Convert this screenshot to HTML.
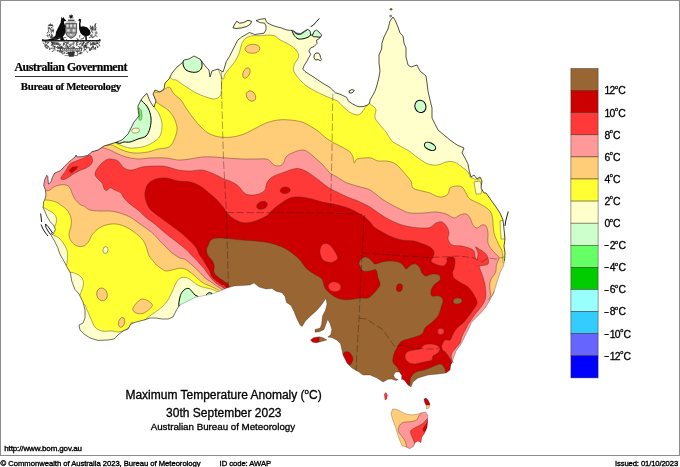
<!DOCTYPE html>
<html><head><meta charset="utf-8"><title>Maximum Temperature Anomaly</title>
<style>
html,body{margin:0;padding:0;background:#fff}
body{width:680px;height:467px;position:relative;overflow:hidden;font-family:"Liberation Sans",sans-serif;color:#000}
.frame{position:absolute;left:0;top:0;width:680px;height:456px;border:1px solid #8c8c8c;box-sizing:border-box}
.t{position:absolute;white-space:nowrap;line-height:1;margin:0}
.sm{font-size:7.8px;-webkit-text-stroke:0.35px #000}
.lab{position:absolute;left:604.4px;font-size:10.4px;letter-spacing:-0.6px;white-space:nowrap;line-height:1;-webkit-text-stroke:0.3px #000}
.lab sup,.ttl sup{font-size:5.6px;vertical-align:baseline;position:relative;top:-5.5px;letter-spacing:0;margin:0 0.2px}
.ttl sup{font-size:8px;top:-5.3px;margin:0}
.mn{display:inline-block;transform:scaleX(1.5);transform-origin:0 50%;width:5.3px;letter-spacing:0;position:relative;top:-0.8px;left:-0.3px}
.serif{font-family:"Liberation Serif",serif;font-weight:700}
</style></head><body>
<div class="frame"></div>
<svg width="680" height="467" viewBox="0 0 680 467" style="position:absolute;left:0;top:0">
<defs><clipPath id="land">
<path d="M46.8,175.3L47.8,176.5L48.4,184.0L50.7,182.4L52.5,177.0L54.8,173.0L60.7,170.6L64.3,166.5L67.8,163.0L71.3,160.0L75.0,157.0L76.0,155.0L77.0,157.0L83.0,156.5L87.8,155.3L92.0,151.8L98.0,150.0L104.0,146.0L114.0,143.0L122.0,140.0L128.0,134.0L131.0,128.0L134.0,122.0L139.0,116.0L138.0,109.0L138.0,106.0L141.0,100.0L144.0,96.0L147.0,93.5L149.0,99.0L151.0,103.0L154.0,107.0L156.0,101.0L153.0,94.0L155.0,90.0L160.0,92.0L164.0,89.0L165.0,83.0L169.0,79.0L172.0,73.0L177.0,67.0L182.0,63.0L184.0,60.0L189.0,59.0L194.0,56.0L200.0,59.0L203.0,63.0L206.0,67.0L209.0,70.0L210.0,77.0L212.0,71.0L218.0,69.0L223.0,72.0L224.3,68.2L226.2,61.6L229.6,56.3L232.2,51.0L234.9,45.7L237.5,40.4L241.5,37.1L246.1,34.5L249.4,32.5L254.7,34.5L260.0,33.8L264.0,33.2L266.0,29.9L266.0,25.9L264.6,23.2L260.0,22.6L256.0,20.6L260.0,19.3L265.3,18.6L266.3,21.9L268.0,23.2L272.0,25.2L275.9,26.5L281.2,27.9L286.5,29.9L289.5,30.3L292.7,30.4L296.6,33.0L300.4,33.8L304.3,31.2L307.5,29.3L310.0,31.0L311.0,35.5L313.0,34.0L314.0,31.5L316.5,30.0L319.0,32.0L321.6,35.0L321.6,35.7L319.0,38.9L316.5,40.2L317.0,43.4L314.0,46.6L310.7,47.9L308.8,51.0L310.7,54.3L308.8,57.5L306.8,61.4L304.3,65.2L302.8,69.0L305.0,71.5L312.0,76.0L318.0,80.0L324.0,84.0L330.1,87.6L335.3,92.7L341.5,94.8L346.6,97.4L348.7,101.5L352.8,104.0L357.9,106.6L363.1,106.6L367.2,105.1L369.3,103.5L370.3,99.4L373.4,94.3L375.4,90.1L377.0,85.0L379.0,77.0L380.0,71.0L379.0,63.0L379.0,55.0L381.6,49.0L382.0,43.0L384.0,37.0L388.0,29.0L390.0,21.0L393.0,17.0L395.0,20.0L398.0,27.0L400.0,33.0L403.0,36.0L404.0,43.0L406.0,48.0L406.0,57.0L408.0,65.0L411.0,67.0L417.0,65.0L420.0,71.0L426.0,76.0L427.0,83.0L428.0,91.0L430.0,100.0L432.0,108.0L432.0,118.0L435.0,124.0L438.0,130.0L444.0,135.0L450.0,140.0L457.0,145.0L464.0,148.0L462.0,153.0L465.0,158.0L468.0,164.0L469.0,170.0L471.0,177.0L474.0,175.0L477.0,179.0L480.0,177.0L482.0,181.0L481.0,188.0L484.0,193.0L486.0,193.0L491.0,200.0L496.0,207.0L500.0,213.0L503.0,220.0L504.0,229.0L505.0,239.0L504.0,246.0L505.0,253.0L504.5,261.0L503.5,266.0L500.3,272.3L498.3,278.0L496.5,283.9L493.6,293.5L489.7,300.3L485.9,307.0L481.0,312.8L476.2,317.6L471.4,322.4L468.5,329.2L465.6,335.0L462.8,340.7L460.0,345.5L456.0,351.0L453.5,358.0L452.0,363.0L451.0,364.0L450.0,370.0L446.0,373.0L438.0,374.0L428.0,375.0L418.0,378.0L413.0,382.0L411.0,387.0L408.0,385.0L404.0,380.0L401.5,379.3L401.8,375.5L399.3,372.0L395.7,372.0L393.5,375.0L395.0,378.3L398.3,379.8L396.0,380.6L391.5,379.0L388.0,379.3L383.0,382.0L377.0,378.0L370.0,375.0L363.0,375.0L359.0,372.0L352.0,368.0L347.0,363.0L343.0,355.0L341.0,346.0L340.5,343.7L336.7,340.0L332.2,337.7L327.7,337.0L330.7,334.7L331.8,329.5L330.0,323.5L327.7,319.3L326.2,323.5L324.0,329.5L319.5,331.7L315.0,332.2L315.0,329.5L320.2,328.0L321.7,323.5L322.5,316.0L325.5,310.0L327.0,304.0L325.8,298.0L324.7,300.2L321.0,305.5L316.5,310.7L310.5,316.0L305.2,321.2L302.2,326.5L300.0,325.0L297.0,319.0L294.0,311.5L291.0,305.5L286.5,302.5L285.0,296.5L282.0,292.7L276.0,291.2L272.0,288.5L266.0,289.0L259.0,287.0L254.0,283.0L250.0,285.0L242.0,285.6L234.0,286.0L227.0,288.0L220.0,291.0L212.0,294.0L204.0,295.6L196.0,297.0L188.0,301.0L180.0,305.0L177.0,309.0L173.0,317.0L168.0,319.0L162.0,319.0L156.0,318.0L150.0,318.0L144.0,320.0L136.0,322.0L131.0,324.0L128.0,329.0L123.0,331.0L118.0,335.0L114.0,339.0L108.0,340.0L98.0,340.4L90.0,338.0L84.0,334.0L80.0,330.0L79.0,325.0L83.0,323.0L85.0,318.0L85.0,310.0L83.0,302.0L79.0,294.0L74.8,289.2L71.6,280.7L70.5,273.2L66.3,265.7L64.1,261.4L59.8,253.9L57.7,247.5L54.5,241.0L51.3,235.7L53.4,233.5L55.5,229.3L53.4,225.0L50.2,221.8L47.0,216.4L44.8,211.0L43.1,207.8L43.8,201.4L44.8,199.5L46.0,194.8L45.4,190.0L43.7,185.3L44.8,179.4Z"/>
<path d="M392.5,409.0L391.0,413.5L392.5,419.5L395.5,427.0L397.7,434.5L400.0,441.0L402.0,445.7L406.0,447.0L409.7,448.7L413.5,446.5L415.0,442.7L418.0,441.0L421.0,442.7L421.7,437.5L424.7,433.0L427.0,427.7L427.7,421.0L427.7,415.0L425.5,412.0L421.7,412.7L418.0,414.0L412.0,415.0L406.0,414.0L400.0,411.0L395.5,409.0Z"/>
<path d="M232.9,27.9L234.9,23.9L236.8,21.2L239.5,23.2L243.5,22.6L248.0,20.3L251.4,21.2L250.7,23.9L246.8,26.5L241.5,27.9L236.2,28.5Z"/>
<path d="M314.3,54.5L316.0,53.2L318.5,53.0L320.0,55.0L320.5,57.5L321.6,59.5L320.5,60.8L318.0,59.5L315.5,60.0L314.0,58.0Z"/>
<path d="M310.5,340.0L313.5,337.7L319.5,336.7L323.2,337.7L327.0,340.0L321.7,341.5L316.5,342.7L312.7,342.2Z"/>
<path d="M384.3,394.0L386.0,392.5L387.4,395.0L386.8,399.0L385.0,400.0Z"/>
<path d="M424.0,399.0L426.0,398.0L428.0,400.0L430.0,404.0L429.0,408.0L426.5,409.0L426.0,405.0L424.5,402.0Z"/>
<path d="M349.0,91.0L352.0,89.5L354.4,90.5L352.0,93.0L349.5,93.0Z"/>
</clipPath></defs>
<g clip-path="url(#land)" opacity="0.999" stroke="#4a2a1a" stroke-opacity="0.7" stroke-width="0.6" stroke-linejoin="round">
<rect x="0" y="0" width="680" height="467" fill="#ffff33" stroke="none"/>
<path d="M160.0,60.0C158.5,66.3 168.3,74.7 171.0,78.0C173.7,81.3 174.2,79.0 176.0,80.0C177.8,81.0 180.0,82.7 182.0,84.0C184.0,85.3 185.7,86.5 188.0,88.0C190.3,89.5 193.0,91.5 196.0,93.0C199.0,94.5 203.0,96.0 206.0,97.0C209.0,98.0 211.7,99.2 214.0,99.0C216.3,98.8 218.8,97.8 220.0,96.0C221.2,94.2 221.2,94.0 221.5,88.0C221.8,82.0 221.6,68.0 221.5,60.0C221.4,52.0 227.9,43.3 221.0,40.0C214.1,36.7 190.2,36.7 180.0,40.0C169.8,43.3 161.5,53.7 160.0,60.0Z" fill="#ffffcc"/>
<path d="M222.0,78.0C224.2,82.0 223.7,75.6 225.0,74.0C226.3,72.4 227.9,70.3 229.6,68.2C231.2,66.1 233.2,64.2 234.9,61.6C236.6,59.0 238.4,55.3 239.5,52.4C240.6,49.5 240.5,46.7 241.5,44.4C242.5,42.1 243.7,39.9 245.4,38.5C247.2,37.1 249.6,36.2 252.0,35.8C254.4,35.3 257.3,35.9 260.0,35.8C262.7,35.7 265.6,35.1 268.0,35.1C270.4,35.1 272.6,35.0 274.6,35.8C276.6,36.6 277.9,38.6 279.9,39.8C281.9,41.0 284.3,41.9 286.5,43.1C288.7,44.3 291.2,45.6 293.1,47.1C295.0,48.6 296.8,50.6 297.7,52.4C298.6,54.1 298.9,55.6 298.4,57.6C297.8,59.6 295.2,62.2 294.4,64.3C293.6,66.4 293.2,68.2 293.5,70.0C293.8,71.8 294.6,73.0 296.0,75.0C297.4,77.0 300.0,80.0 302.0,82.0C304.0,84.0 305.7,85.4 308.0,87.0C310.3,88.6 313.2,90.0 316.0,91.5C318.8,93.0 322.5,94.6 325.0,95.8C327.5,97.0 329.1,97.5 331.2,98.4C333.3,99.3 335.5,99.7 337.4,101.0C339.3,102.3 340.8,104.5 342.5,106.1C344.2,107.7 345.9,109.4 347.6,110.7C349.3,112.0 351.1,113.1 352.8,113.8C354.5,114.5 356.4,115.1 357.9,114.9C359.3,114.7 360.5,113.8 361.5,112.8C362.5,111.8 363.3,110.3 364.1,109.2C364.9,108.1 365.5,106.9 366.2,106.1C366.9,105.3 367.7,105.1 368.2,104.6C368.7,104.0 369.0,102.8 369.4,102.8C369.8,102.8 370.1,103.9 370.4,104.3C370.7,104.7 370.6,104.5 371.3,105.0C372.0,105.5 373.6,106.2 374.4,107.1C375.2,108.0 375.9,108.9 376.0,110.2C376.1,111.5 375.1,113.4 375.0,114.9C374.9,116.4 374.8,117.6 375.4,119.0C376.0,120.4 377.3,121.6 378.5,123.1C379.7,124.6 381.4,126.7 382.6,128.2C383.9,129.7 384.4,129.9 386.0,132.0C387.6,134.1 389.7,138.7 392.0,141.0C394.3,143.3 397.2,144.3 400.0,146.0C402.8,147.7 406.0,149.0 409.0,151.0C412.0,153.0 414.8,155.8 418.0,158.0C421.2,160.2 424.7,162.8 428.0,164.0C431.3,165.2 435.0,165.3 438.0,165.0C441.0,164.7 443.3,162.5 446.0,162.0C448.7,161.5 451.3,161.2 454.0,162.0C456.7,162.8 459.7,165.3 462.0,167.0C464.3,168.7 466.3,170.2 468.0,172.0C469.7,173.8 469.2,178.0 472.0,178.0C474.8,178.0 477.0,185.0 485.0,172.0C493.0,159.0 514.2,128.7 520.0,100.0C525.8,71.3 573.3,16.7 520.0,0.0C466.7,-16.7 251.3,-8.3 200.0,0.0C148.7,8.3 208.3,37.0 212.0,50.0C215.7,63.0 219.8,74.0 222.0,78.0Z" fill="#ffffcc"/>
<path d="M147.0,92.0C151.2,92.0 148.7,97.3 150.0,100.0C151.3,102.7 153.5,105.7 155.0,108.0C156.5,110.3 157.8,111.3 159.0,114.0C160.2,116.7 161.8,120.3 162.0,124.0C162.2,127.7 161.7,132.8 160.0,136.0C158.3,139.2 155.0,141.2 152.0,143.0C149.0,144.8 145.7,146.2 142.0,147.0C138.3,147.8 133.7,148.3 130.0,148.0C126.3,147.7 122.7,146.0 120.0,145.0C117.3,144.0 116.5,143.7 114.0,142.0C111.5,140.3 103.2,142.0 105.0,135.0C106.8,128.0 118.0,107.2 125.0,100.0C132.0,92.8 142.8,92.0 147.0,92.0Z" fill="#ffffcc"/>
<path d="M42.0,207.0C43.2,206.7 46.1,209.0 48.0,210.0C49.9,211.0 52.0,211.8 53.4,213.2C54.8,214.6 56.2,216.6 56.6,218.6C57.0,220.6 56.0,223.4 55.5,225.0C55.0,226.6 54.3,227.8 53.4,228.0C52.5,228.2 51.2,227.7 50.0,226.0C48.8,224.3 47.5,220.3 46.0,218.0C44.5,215.7 41.7,213.8 41.0,212.0C40.3,210.2 40.8,207.3 42.0,207.0Z" fill="#ffffcc"/>
<path d="M51.0,234.0C51.8,233.8 52.7,234.9 54.0,235.5C55.3,236.1 57.1,236.3 58.8,237.8C60.5,239.3 62.7,242.0 64.1,244.3C65.5,246.6 66.8,249.2 67.3,251.7C67.8,254.2 67.5,257.0 67.3,259.2C67.1,261.4 67.2,264.4 66.3,265.0C65.4,265.6 64.0,266.3 62.0,263.0C60.0,259.7 56.2,249.3 54.0,245.0C51.8,240.7 49.5,238.8 49.0,237.0C48.5,235.2 50.2,234.2 51.0,234.0Z" fill="#ffffcc"/>
<path d="M70.0,272.5C71.5,271.9 75.0,273.2 77.0,274.2C79.0,275.2 81.2,276.7 82.3,278.5C83.4,280.3 83.6,282.9 83.4,285.0C83.2,287.1 82.0,289.6 81.3,291.4C80.6,293.2 80.5,295.9 79.0,296.0C77.5,296.1 73.8,295.0 72.0,292.0C70.2,289.0 68.3,281.2 68.0,278.0C67.7,274.8 68.5,273.1 70.0,272.5Z" fill="#ffffcc"/>
<path d="M83.0,306.0C85.8,301.8 85.7,307.8 87.0,310.0C88.3,312.2 89.7,316.2 91.0,319.0C92.3,321.8 93.2,325.0 95.0,327.0C96.8,329.0 99.2,330.3 102.0,331.0C104.8,331.7 109.2,330.8 112.0,331.0C114.8,331.2 116.8,332.2 119.0,332.0C121.2,331.8 123.3,330.8 125.0,330.0C126.7,329.2 127.8,328.3 129.0,327.0C130.2,325.7 130.8,321.9 132.0,322.4C133.2,322.9 141.3,325.4 136.0,330.0C130.7,334.6 111.0,349.2 100.0,350.0C89.0,350.8 72.8,342.3 70.0,335.0C67.2,327.7 80.2,310.2 83.0,306.0Z" fill="#ffffcc"/>
<path d="M143.0,323.0C142.3,320.8 144.2,320.7 146.0,319.0C147.8,317.3 151.3,315.0 154.0,313.0C156.7,311.0 159.7,309.2 162.0,307.0C164.3,304.8 166.3,302.5 168.0,300.0C169.7,297.5 170.7,294.8 172.0,292.0C173.3,289.2 174.7,285.3 176.0,283.0C177.3,280.7 178.6,279.3 180.0,278.4C181.4,277.4 182.9,277.3 184.3,277.3C185.7,277.3 187.2,277.7 188.6,278.4C190.0,279.1 191.3,280.4 192.9,281.6C194.5,282.8 196.2,284.4 198.2,285.4C200.1,286.4 202.5,286.9 204.6,287.5C206.7,288.1 209.0,288.4 211.0,289.0C213.0,289.6 215.1,290.6 216.4,291.3C217.7,292.1 219.2,291.2 219.0,293.5C218.8,295.8 226.5,298.6 215.0,305.0C203.5,311.4 162.0,329.0 150.0,332.0C138.0,335.0 143.7,325.2 143.0,323.0Z" fill="#ffffcc"/>
<ellipse cx="105.5" cy="250" rx="2.5" ry="3.5" transform="rotate(10 105.5 250)" fill="#ffffcc"/>
<path d="M474.0,182.0L480.0,181.0L482.0,188.0L481.0,194.0L476.0,194.0Z" fill="#ffffcc"/>
<path d="M500.0,221.0L504.0,220.0L505.0,239.0L501.0,239.0Z" fill="#ffffcc"/>
<path d="M150.0,85.0C150.3,83.7 153.0,91.0 155.0,92.0C157.0,93.0 159.7,91.8 162.0,91.0C164.3,90.2 167.0,86.5 169.0,87.0C171.0,87.5 172.0,91.8 174.0,94.0C176.0,96.2 179.0,97.7 181.0,100.0C183.0,102.3 183.8,104.8 186.0,108.0C188.2,111.2 191.3,115.7 194.0,119.0C196.7,122.3 199.3,125.5 202.0,128.0C204.7,130.5 207.0,132.5 210.0,134.0C213.0,135.5 216.3,136.5 220.0,137.0C223.7,137.5 228.0,137.5 232.0,137.0C236.0,136.5 240.0,135.5 244.0,134.0C248.0,132.5 252.3,129.8 256.0,128.0C259.7,126.2 262.3,124.3 266.0,123.0C269.7,121.7 274.0,120.5 278.0,120.0C282.0,119.5 286.0,119.7 290.0,120.0C294.0,120.3 298.7,121.0 302.0,122.0C305.3,123.0 307.3,124.5 310.0,126.0C312.7,127.5 315.3,129.0 318.0,131.0C320.7,133.0 323.3,136.0 326.0,138.0C328.7,140.0 331.3,141.5 334.0,143.0C336.7,144.5 339.3,145.5 342.0,147.0C344.7,148.5 348.2,150.3 350.0,152.0C351.8,153.7 352.3,155.2 353.0,157.0C353.7,158.8 353.7,162.7 354.4,163.0C355.1,163.3 355.4,159.8 357.0,159.0C358.6,158.2 361.7,158.2 364.0,158.0C366.3,157.8 368.7,157.5 371.0,158.0C373.3,158.5 375.5,160.5 378.0,161.0C380.5,161.5 383.3,160.7 386.0,161.0C388.7,161.3 391.7,161.8 394.0,163.0C396.3,164.2 398.0,166.0 400.0,168.0C402.0,170.0 404.2,172.8 406.0,175.0C407.8,177.2 409.8,178.8 411.0,181.0C412.2,183.2 411.2,186.3 413.0,188.0C414.8,189.7 419.2,190.2 422.0,191.0C424.8,191.8 427.7,192.2 430.0,193.0C432.3,193.8 434.0,195.3 436.0,196.0C438.0,196.7 440.0,197.3 442.0,197.0C444.0,196.7 446.7,195.5 448.0,194.0C449.3,192.5 448.7,189.3 450.0,188.0C451.3,186.7 454.0,186.2 456.0,186.0C458.0,185.8 460.3,185.8 462.0,187.0C463.7,188.2 464.7,191.0 466.0,193.0C467.3,195.0 467.7,197.2 470.0,199.0C472.3,200.8 477.0,202.3 480.0,204.0C483.0,205.7 486.0,207.2 488.0,209.0C490.0,210.8 491.2,212.7 492.0,215.0C492.8,217.3 492.7,220.0 493.0,223.0C493.3,226.0 493.2,229.7 494.0,233.0C494.8,236.3 496.7,240.0 498.0,243.0C499.3,246.0 501.2,248.3 502.0,251.0C502.8,253.7 502.7,257.0 503.0,259.0C503.3,261.0 502.0,262.0 504.0,263.0C506.0,264.0 510.7,258.8 515.0,265.0C519.3,271.2 529.2,267.5 530.0,300.0C530.8,332.5 566.7,433.3 520.0,460.0C473.3,486.7 298.0,485.0 250.0,460.0C202.0,435.0 236.8,337.8 232.0,310.0C227.2,282.2 223.1,296.1 221.0,293.0C218.9,289.9 220.4,292.0 219.6,291.3C218.8,290.6 217.8,289.8 216.4,289.0C215.0,288.2 213.0,287.3 211.0,286.4C209.0,285.5 206.5,284.9 204.6,283.8C202.7,282.7 201.1,281.4 199.3,280.0C197.5,278.6 195.8,276.7 194.0,275.2C192.2,273.7 190.2,272.0 188.6,270.9C187.0,269.8 185.7,269.2 184.3,268.8C182.9,268.4 181.7,268.1 180.0,268.2C178.3,268.3 176.3,269.0 174.0,269.5C171.7,270.0 168.0,271.1 166.0,271.0C164.0,270.9 163.6,270.0 162.0,269.0C160.4,268.0 157.9,266.3 156.4,265.0C154.9,263.7 154.3,262.3 153.2,261.0C152.1,259.7 150.9,258.6 150.0,257.3C149.1,256.0 148.7,254.9 148.0,253.0C147.3,251.1 147.0,248.3 146.0,246.0C145.0,243.7 144.0,241.3 142.0,239.0C140.0,236.7 136.7,234.0 134.0,232.0C131.3,230.0 129.0,228.3 126.0,227.0C123.0,225.7 119.3,224.3 116.0,224.0C112.7,223.7 109.0,224.2 106.0,225.0C103.0,225.8 100.3,227.3 98.0,229.0C95.7,230.7 93.5,233.0 92.0,235.0C90.5,237.0 90.3,239.2 89.0,241.0C87.7,242.8 86.0,245.2 84.0,246.0C82.0,246.8 79.2,246.8 77.0,246.0C74.8,245.2 72.3,243.0 71.0,241.0C69.7,239.0 69.0,236.5 69.0,234.0C69.0,231.5 70.7,228.7 71.0,226.0C71.3,223.3 71.7,220.7 71.0,218.0C70.3,215.3 68.7,212.2 67.0,210.0C65.3,207.8 62.4,206.3 60.7,205.0C59.0,203.7 58.6,203.1 57.0,202.4C55.4,201.7 53.0,201.0 51.0,200.6C49.0,200.2 48.3,200.1 44.8,200.0C41.3,199.9 32.5,208.3 30.0,200.0C27.5,191.7 20.0,160.0 30.0,150.0C40.0,140.0 77.3,140.8 90.0,140.0C102.7,139.2 102.3,144.2 106.0,145.0C109.7,145.8 109.3,144.2 112.0,145.0C114.7,145.8 118.3,148.7 122.0,150.0C125.7,151.3 129.7,152.7 134.0,153.0C138.3,153.3 144.0,152.7 148.0,152.0C152.0,151.3 154.5,149.8 158.0,149.0C161.5,148.2 166.3,148.5 169.0,147.0C171.7,145.5 172.7,142.8 174.0,140.0C175.3,137.2 176.7,132.8 177.0,130.0C177.3,127.2 176.7,125.3 176.0,123.0C175.3,120.7 174.3,118.2 173.0,116.0C171.7,113.8 169.8,111.7 168.0,110.0C166.2,108.3 164.0,107.3 162.0,106.0C160.0,104.7 157.5,103.0 156.0,102.0C154.5,101.0 154.0,102.8 153.0,100.0C152.0,97.2 149.7,86.3 150.0,85.0Z" fill="#ffcc77"/>
<path d="M92.0,140.0C102.8,139.5 99.0,145.7 101.0,147.0C103.0,148.3 102.5,147.5 104.0,148.0C105.5,148.5 108.0,149.2 110.0,150.0C112.0,150.8 113.3,151.8 116.0,153.0C118.7,154.2 122.3,156.0 126.0,157.0C129.7,158.0 134.0,158.8 138.0,159.0C142.0,159.2 145.3,158.2 150.0,158.0C154.7,157.8 161.3,157.7 166.0,158.0C170.7,158.3 174.0,159.8 178.0,160.0C182.0,160.2 186.0,159.5 190.0,159.0C194.0,158.5 198.0,157.3 202.0,157.0C206.0,156.7 210.0,156.8 214.0,157.0C218.0,157.2 221.3,157.7 226.0,158.0C230.7,158.3 237.0,158.8 242.0,159.0C247.0,159.2 252.0,159.0 256.0,159.0C260.0,159.0 263.7,158.7 266.0,159.0C268.3,159.3 268.7,160.0 270.0,161.0C271.3,162.0 272.3,164.2 274.0,165.0C275.7,165.8 278.3,166.3 280.0,165.8C281.7,165.3 283.0,163.5 284.0,162.0C285.0,160.5 284.7,158.5 286.0,157.0C287.3,155.5 289.3,154.2 292.0,153.0C294.7,151.8 299.3,150.2 302.0,150.0C304.7,149.8 306.0,150.8 308.0,152.0C310.0,153.2 311.7,155.0 314.0,157.0C316.3,159.0 319.3,161.3 322.0,164.0C324.7,166.7 327.5,170.8 330.0,173.0C332.5,175.2 334.2,175.3 337.0,177.0C339.8,178.7 343.2,181.4 347.0,183.0C350.8,184.6 355.9,185.6 359.7,186.8C363.5,188.0 366.3,188.0 370.0,190.0C373.7,192.0 378.3,196.5 382.0,199.0C385.7,201.5 388.7,203.2 392.0,205.0C395.3,206.8 399.0,208.7 402.0,210.0C405.0,211.3 406.3,212.5 410.0,213.0C413.7,213.5 419.7,213.2 424.0,213.0C428.3,212.8 432.3,211.8 436.0,212.0C439.7,212.2 443.0,213.0 446.0,214.0C449.0,215.0 451.7,217.8 454.0,218.0C456.3,218.2 458.0,215.7 460.0,215.0C462.0,214.3 464.3,213.5 466.0,214.0C467.7,214.5 468.8,216.2 470.0,218.0C471.2,219.8 471.8,223.3 473.0,225.0C474.2,226.7 475.5,228.0 477.0,228.0C478.5,228.0 480.5,225.3 482.0,225.0C483.5,224.7 485.0,224.7 486.0,226.0C487.0,227.3 487.7,230.2 488.0,233.0C488.3,235.8 487.3,240.2 488.0,243.0C488.7,245.8 490.5,248.0 492.0,250.0C493.5,252.0 495.8,253.7 497.0,255.0C498.2,256.3 499.1,256.4 499.0,258.0C498.9,259.6 497.1,262.2 496.5,264.6C495.9,267.0 496.5,269.7 495.5,272.3C494.5,274.9 491.7,277.4 490.7,280.0C489.7,282.6 489.7,285.2 489.7,287.8C489.7,290.4 490.7,293.4 490.7,295.5C490.7,297.6 487.9,299.4 489.5,300.5C491.1,301.6 496.6,275.4 500.0,302.0C503.4,328.6 554.2,433.7 510.0,460.0C465.8,486.3 281.3,485.0 235.0,460.0C188.7,435.0 234.0,338.2 232.0,310.0C230.0,281.8 224.8,294.5 223.0,291.0C221.2,287.5 222.4,289.9 221.3,289.0C220.2,288.1 218.1,287.1 216.4,285.9C214.7,284.7 212.8,283.2 211.0,282.0C209.2,280.8 207.5,279.9 205.7,278.4C203.9,276.9 202.2,274.8 200.4,273.0C198.6,271.2 196.8,269.4 195.0,267.7C193.2,266.0 191.4,264.3 189.6,262.9C187.8,261.4 185.9,259.8 184.3,259.0C182.7,258.2 181.2,258.5 180.0,258.0C178.8,257.5 178.2,257.1 176.8,256.2C175.4,255.3 173.2,254.0 171.4,252.5C169.6,251.0 167.8,248.8 166.0,247.0C164.2,245.2 162.5,243.7 160.7,241.8C158.9,240.0 157.2,237.7 155.4,235.9C153.6,234.1 152.6,233.0 150.0,231.0C147.4,229.0 143.3,226.3 140.0,224.0C136.7,221.7 133.3,218.8 130.0,217.0C126.7,215.2 123.3,214.0 120.0,213.0C116.7,212.0 113.3,211.3 110.0,211.0C106.7,210.7 103.3,211.2 100.0,211.0C96.7,210.8 92.7,210.8 90.0,210.0C87.3,209.2 85.5,206.8 84.0,206.0C82.5,205.2 81.9,205.7 80.8,205.0C79.7,204.3 78.4,203.1 77.2,201.8C76.0,200.5 74.7,198.8 73.7,197.0C72.7,195.2 72.1,192.9 71.3,191.2C70.5,189.4 70.2,187.6 69.0,186.5C67.8,185.4 66.1,184.9 64.3,184.7C62.5,184.5 60.2,184.9 58.4,185.3C56.6,185.7 55.1,186.2 53.7,187.0C52.3,187.8 51.3,189.4 50.0,190.0C48.7,190.6 48.3,190.9 46.0,190.6C43.7,190.3 37.7,194.8 36.0,188.0C34.3,181.2 26.7,158.0 36.0,150.0C45.3,142.0 81.2,140.5 92.0,140.0Z" fill="#ff9999"/>
<path d="M95.0,174.0C95.0,172.5 95.8,170.8 97.0,169.0C98.2,167.2 100.3,164.6 102.0,163.0C103.7,161.4 105.5,160.2 107.0,159.5C108.5,158.8 109.2,158.8 111.0,159.0C112.8,159.2 115.8,159.5 118.0,161.0C120.2,162.5 121.7,166.5 124.0,168.0C126.3,169.5 129.0,170.2 132.0,170.0C135.0,169.8 138.3,167.7 142.0,167.0C145.7,166.3 150.0,166.1 154.0,166.0C158.0,165.9 162.0,165.8 166.0,166.5C170.0,167.2 174.0,169.2 178.0,170.0C182.0,170.8 186.0,171.0 190.0,171.0C194.0,171.0 198.0,169.5 202.0,170.0C206.0,170.5 210.3,172.5 214.0,174.0C217.7,175.5 221.3,177.8 224.0,179.0C226.7,180.2 227.7,179.9 230.0,181.0C232.3,182.1 235.6,183.7 238.0,185.7C240.4,187.7 242.3,191.4 244.4,193.0C246.5,194.6 248.2,194.8 250.6,195.0C253.0,195.2 256.4,194.8 258.8,194.0C261.2,193.2 263.6,191.9 265.0,190.0C266.4,188.1 265.7,184.8 267.0,182.6C268.3,180.3 270.2,178.2 273.0,176.5C275.8,174.8 279.7,173.7 283.5,172.4C287.3,171.1 292.6,168.9 296.0,168.6C299.4,168.2 301.3,169.2 304.0,170.3C306.7,171.4 309.6,173.5 312.4,175.4C315.2,177.3 317.9,179.5 320.6,181.6C323.3,183.7 326.1,186.1 328.8,187.8C331.5,189.5 333.9,190.5 337.0,192.0C340.1,193.5 343.9,195.5 347.4,197.0C350.8,198.5 353.9,199.3 357.7,201.0C361.5,202.7 366.3,204.8 370.0,207.0C373.7,209.2 376.7,211.8 380.0,214.0C383.3,216.2 386.3,218.2 390.0,220.0C393.7,221.8 398.0,223.8 402.0,225.0C406.0,226.2 410.0,226.9 414.0,227.4C418.0,227.9 423.2,228.1 426.0,228.0C428.8,227.9 429.3,227.8 431.0,227.0C432.7,226.2 434.2,223.8 436.0,223.0C437.8,222.2 440.2,221.3 442.0,222.0C443.8,222.7 445.8,225.2 447.0,227.0C448.2,228.8 448.8,231.0 449.0,233.0C449.2,235.0 447.5,237.0 448.0,239.0C448.5,241.0 449.7,243.8 452.0,245.0C454.3,246.2 459.2,245.5 462.0,246.0C464.8,246.5 467.0,247.2 469.0,248.0C471.0,248.8 472.9,249.2 474.0,251.0C475.1,252.8 475.1,257.7 475.6,259.0C476.1,260.3 476.6,260.0 477.0,259.0C477.4,258.0 478.2,255.0 478.0,253.0C477.8,251.0 475.3,247.7 475.5,247.0C475.7,246.3 477.4,248.0 479.0,249.0C480.6,250.0 483.5,251.5 485.0,253.0C486.5,254.5 487.5,256.2 488.0,258.0C488.5,259.8 489.3,262.7 488.0,264.0C486.7,265.3 481.5,265.6 480.0,266.0C478.5,266.4 478.8,265.2 479.1,266.6C479.4,268.0 481.0,271.4 482.0,274.3C483.0,277.2 484.2,280.7 484.9,283.9C485.5,287.1 485.9,290.8 485.9,293.5C485.9,296.2 485.7,298.1 484.9,300.3C484.1,302.6 482.4,304.9 481.0,307.0C479.6,309.1 477.8,310.7 476.2,312.8C474.6,314.9 472.8,317.4 471.4,319.5C470.0,321.6 468.7,323.4 467.6,325.3C466.5,327.2 465.7,329.2 464.7,331.1C463.7,333.0 462.6,334.9 461.8,336.9C461.0,338.9 461.0,341.0 459.9,343.0C458.8,345.0 456.4,347.2 455.0,349.0C453.6,350.8 452.1,352.5 451.5,354.0C450.9,355.5 451.2,356.5 451.5,358.0C451.8,359.5 449.9,359.3 453.0,363.0C456.1,366.7 467.2,363.8 470.0,380.0C472.8,396.2 508.3,446.7 470.0,460.0C431.7,473.3 279.2,485.0 240.0,460.0C200.8,435.0 237.7,338.6 235.0,310.0C232.3,281.4 226.0,292.4 224.0,288.6C222.0,284.9 224.0,288.2 222.9,287.5C221.8,286.8 219.3,285.6 217.5,284.3C215.7,283.0 213.7,281.1 212.2,279.5C210.7,277.9 209.7,276.3 208.4,274.6C207.1,272.9 205.9,271.0 204.6,269.3C203.3,267.6 201.8,266.1 200.4,264.5C199.0,262.9 197.4,261.0 196.0,259.5C194.6,258.0 193.3,257.0 191.8,255.5C190.3,254.0 189.0,252.1 187.0,250.3C185.0,248.5 182.6,246.6 180.0,244.5C177.4,242.4 174.3,240.2 171.4,238.0C168.5,235.8 165.5,233.2 162.8,231.0C160.1,228.8 157.5,226.4 155.4,224.6C153.3,222.8 151.6,221.6 150.0,220.4C148.4,219.2 148.0,219.2 146.0,217.5C144.0,215.8 140.7,212.2 138.0,210.0C135.3,207.8 132.3,206.0 130.0,204.0C127.7,202.0 125.5,199.8 124.0,198.0C122.5,196.2 122.3,194.2 121.0,193.0C119.7,191.8 117.2,191.2 116.0,190.6C114.8,190.0 114.7,190.0 113.7,189.5C112.7,189.0 111.2,187.5 110.0,187.7C108.8,187.9 107.7,190.4 106.7,190.6C105.8,190.8 105.1,190.3 104.3,189.0C103.5,187.7 103.2,184.8 102.0,183.0C100.8,181.2 98.2,179.5 97.0,178.0C95.8,176.5 95.0,175.5 95.0,174.0Z" fill="#ff3838"/>
<path d="M60.7,178.3C60.9,176.9 63.9,173.6 65.4,171.2C67.0,168.8 68.0,165.8 70.0,164.0C72.0,162.2 74.8,161.7 77.2,160.6C79.6,159.5 82.2,158.6 84.3,157.7C86.4,156.8 88.6,155.0 90.0,155.3C91.4,155.6 92.3,158.0 92.5,159.4C92.7,160.8 92.4,162.6 91.4,164.0C90.4,165.4 88.4,166.7 86.6,167.7C84.8,168.7 82.8,169.1 80.8,170.0C78.8,170.9 76.9,171.8 74.9,173.0C72.9,174.2 70.8,175.9 69.0,177.0C67.2,178.1 65.7,179.2 64.3,179.4C62.9,179.6 60.5,179.7 60.7,178.3Z" fill="#ff3838"/>
<path d="M69.0,170.6L72.5,167.0L77.8,166.5L76.6,168.8L71.3,173.0Z" fill="#cc0000"/>
<path d="M145.0,193.0C145.3,190.2 146.2,186.3 148.0,184.0C149.8,181.7 153.0,180.0 156.0,179.0C159.0,178.0 162.3,177.7 166.0,178.0C169.7,178.3 174.0,180.3 178.0,181.0C182.0,181.7 186.3,181.2 190.0,182.0C193.7,182.8 196.8,184.2 200.0,186.0C203.2,187.8 206.3,190.8 209.0,193.0C211.7,195.2 213.7,196.7 216.0,199.0C218.3,201.3 221.0,204.5 223.0,207.0C225.0,209.5 226.2,212.0 228.0,214.0C229.8,216.0 231.7,217.6 234.0,219.0C236.3,220.4 239.3,221.9 242.0,222.5C244.7,223.1 247.2,223.0 250.0,222.5C252.8,222.0 256.0,220.8 258.8,219.7C261.6,218.5 264.6,217.3 267.0,215.6C269.4,213.9 270.6,211.5 273.0,209.4C275.4,207.3 278.7,204.9 281.5,203.0C284.3,201.1 286.9,199.0 290.0,198.0C293.1,197.0 296.3,196.8 300.0,197.0C303.7,197.2 308.3,198.2 312.0,199.0C315.7,199.8 318.5,201.2 322.0,202.0C325.5,202.8 329.2,203.2 333.0,204.0C336.8,204.8 341.2,205.8 345.0,207.0C348.8,208.2 352.4,209.9 355.6,211.5C358.8,213.1 361.6,214.8 364.0,216.6C366.4,218.3 368.3,220.3 370.0,222.0C371.7,223.7 372.0,225.3 374.0,227.0C376.0,228.7 379.0,230.3 382.0,232.0C385.0,233.7 388.7,235.7 392.0,237.0C395.3,238.3 398.3,239.3 402.0,240.0C405.7,240.7 411.0,240.5 414.0,241.0C417.0,241.5 417.3,242.0 420.0,243.0C422.7,244.0 427.7,245.5 430.0,247.0C432.3,248.5 433.5,250.3 434.0,252.0C434.5,253.7 433.5,255.5 433.0,257.0C432.5,258.5 430.7,259.8 431.0,261.0C431.3,262.2 433.0,263.2 435.0,264.0C437.0,264.8 441.0,266.3 443.0,266.0C445.0,265.7 446.3,263.3 447.0,262.0C447.7,260.7 446.2,258.8 447.0,258.0C447.8,257.2 450.7,256.7 452.0,257.0C453.3,257.3 454.7,258.0 455.0,260.0C455.3,262.0 454.4,267.0 454.0,269.0C453.6,271.0 452.5,270.5 452.5,272.0C452.5,273.5 452.6,276.2 454.0,278.0C455.4,279.8 458.7,281.5 461.0,283.0C463.3,284.5 465.8,285.0 468.0,287.0C470.2,289.0 472.5,292.3 474.0,295.0C475.5,297.7 477.2,300.5 477.0,303.0C476.8,305.5 474.5,307.7 473.0,310.0C471.5,312.3 469.7,314.8 468.0,317.0C466.3,319.2 464.8,321.2 463.0,323.0C461.2,324.8 458.7,326.2 457.0,328.0C455.3,329.8 454.2,332.0 453.0,334.0C451.8,336.0 451.3,339.0 450.0,340.0C448.7,341.0 446.3,339.2 445.0,340.0C443.7,340.8 442.5,343.5 442.0,345.0C441.5,346.5 441.0,347.2 442.0,349.0C443.0,350.8 446.3,353.7 448.0,356.0C449.7,358.3 450.0,359.0 452.0,363.0C454.0,367.0 458.7,363.8 460.0,380.0C461.3,396.2 495.8,446.7 460.0,460.0C424.2,473.3 282.0,485.0 245.0,460.0C208.0,435.0 241.2,338.8 238.0,310.0C234.8,281.2 228.7,291.7 226.0,287.5C223.3,283.3 223.4,285.9 221.8,284.8C220.2,283.7 218.1,282.4 216.4,281.0C214.7,279.6 212.7,277.9 211.6,276.3C210.5,274.7 210.8,273.1 210.0,271.4C209.2,269.7 207.9,267.9 206.8,266.0C205.7,264.1 204.4,261.8 203.2,260.0C202.0,258.2 200.6,256.7 199.6,255.0C198.6,253.3 198.2,251.3 197.3,249.6C196.4,247.9 195.5,246.8 193.9,245.0C192.3,243.2 189.8,240.8 187.5,238.6C185.2,236.4 182.7,234.2 180.0,232.0C177.3,229.8 174.3,227.8 171.4,225.7C168.5,223.6 165.2,221.1 162.8,219.3C160.4,217.5 159.1,216.7 157.0,215.0C154.9,213.3 151.8,211.3 150.0,209.0C148.2,206.7 146.8,203.7 146.0,201.0C145.2,198.3 144.7,195.8 145.0,193.0Z" fill="#cc0000"/>
<ellipse cx="285.2" cy="190.3" rx="5.0" ry="3.3" transform="rotate(-5 285.2 190.3)" fill="#cc0000"/>
<ellipse cx="262" cy="205.3" rx="5.5" ry="3.75" transform="rotate(-20 262 205.3)" fill="#cc0000"/>
<path d="M208.0,246.0C208.8,244.3 209.3,241.3 211.0,240.0C212.7,238.7 215.2,238.2 218.0,238.0C220.8,237.8 224.0,238.3 228.0,238.6C232.0,238.9 237.3,239.6 242.0,240.0C246.7,240.4 251.3,240.5 256.0,241.0C260.7,241.5 265.7,242.0 270.0,243.0C274.3,244.0 278.3,245.3 282.0,247.0C285.7,248.7 289.0,250.8 292.0,253.0C295.0,255.2 297.7,257.5 300.0,260.0C302.3,262.5 303.7,265.7 306.0,268.0C308.3,270.3 311.3,272.2 314.0,274.0C316.7,275.8 320.2,276.7 322.0,279.0C323.8,281.3 323.3,285.3 325.0,288.0C326.7,290.7 329.5,293.2 332.0,295.0C334.5,296.8 337.0,298.2 340.0,299.0C343.0,299.8 346.7,299.8 350.0,299.6C353.3,299.4 357.0,298.3 360.0,298.0C363.0,297.7 365.7,298.8 368.0,298.0C370.3,297.2 372.0,295.2 374.0,293.0C376.0,290.8 379.3,287.5 380.0,285.0C380.7,282.5 378.7,280.5 378.0,278.0C377.3,275.5 377.3,271.2 376.0,270.0C374.7,268.8 372.2,270.8 370.0,271.0C367.8,271.2 364.7,271.8 363.0,271.0C361.3,270.2 360.7,267.3 360.0,266.0C359.3,264.7 358.8,264.2 359.0,263.0C359.2,261.8 359.8,260.0 361.0,259.0C362.2,258.0 364.3,256.8 366.0,257.0C367.7,257.2 369.5,258.8 371.0,260.0C372.5,261.2 373.2,263.7 375.0,264.0C376.8,264.3 379.5,262.5 382.0,262.0C384.5,261.5 387.3,261.0 390.0,261.0C392.7,261.0 395.8,261.3 398.0,262.0C400.2,262.7 401.7,263.8 403.0,265.0C404.3,266.2 404.7,269.0 406.0,269.0C407.3,269.0 409.3,265.8 411.0,265.0C412.7,264.2 414.5,263.5 416.0,264.0C417.5,264.5 419.0,266.5 420.0,268.0C421.0,269.5 421.0,271.7 422.0,273.0C423.0,274.3 424.3,275.8 426.0,276.0C427.7,276.2 429.8,274.2 432.0,274.0C434.2,273.8 437.7,274.0 439.0,275.0C440.3,276.0 440.8,278.3 440.0,280.0C439.2,281.7 435.5,283.2 434.0,285.0C432.5,286.8 431.3,289.2 431.0,291.0C430.7,292.8 430.7,295.2 432.0,296.0C433.3,296.8 437.2,295.3 439.0,296.0C440.8,296.7 442.7,298.0 443.0,300.0C443.3,302.0 441.8,305.3 441.0,308.0C440.2,310.7 439.7,313.5 438.0,316.0C436.3,318.5 433.2,321.0 431.0,323.0C428.8,325.0 426.5,326.2 425.0,328.0C423.5,329.8 424.2,332.3 422.0,334.0C419.8,335.7 415.3,336.8 412.0,338.0C408.7,339.2 404.3,339.7 402.0,341.0C399.7,342.3 399.3,343.8 398.0,346.0C396.7,348.2 394.8,351.3 394.0,354.0C393.2,356.7 392.5,359.8 393.0,362.0C393.5,364.2 395.8,365.3 397.0,367.0C398.2,368.7 399.2,370.2 400.0,372.0C400.8,373.8 400.8,376.0 402.0,378.0C403.2,380.0 406.5,381.2 407.0,384.0C407.5,386.8 422.8,392.3 405.0,395.0C387.2,397.7 325.8,410.8 300.0,400.0C274.2,389.2 261.9,349.0 250.0,330.0C238.1,311.0 232.6,293.7 228.8,286.0C225.0,278.3 228.2,284.7 227.2,283.8C226.2,282.9 224.6,281.8 222.9,280.5C221.2,279.2 218.5,277.8 217.0,276.3C215.5,274.8 214.2,273.1 213.8,271.4C213.4,269.7 214.6,267.8 214.3,266.0C214.0,264.2 213.3,262.5 212.2,260.7C211.1,258.9 208.8,257.2 207.9,255.4C207.0,253.6 206.5,251.6 206.5,250.0C206.5,248.4 207.2,247.7 208.0,246.0Z" fill="#996633"/>
<path d="M410.0,383.0C409.8,380.5 410.0,378.8 411.0,377.0C412.0,375.2 413.8,373.2 416.0,372.0C418.2,370.8 421.3,370.8 424.0,370.0C426.7,369.2 429.3,368.0 432.0,367.0C434.7,366.0 438.0,364.0 440.0,364.0C442.0,364.0 443.0,365.5 444.0,367.0C445.0,368.5 445.3,370.5 446.0,373.0C446.7,375.5 453.7,378.8 448.0,382.0C442.3,385.2 418.3,391.8 412.0,392.0C405.7,392.2 410.2,385.5 410.0,383.0Z" fill="#996633"/>
<ellipse cx="457.6" cy="301" rx="4.5" ry="3.0" transform="rotate(-5 457.6 301)" fill="#996633"/>
<path d="M325.0,243.4C326.7,243.3 328.9,243.7 331.0,246.0C333.1,248.3 336.9,254.5 337.6,257.0C338.3,259.5 336.3,260.1 335.0,261.0C333.7,261.9 332.0,262.8 330.0,262.6C328.0,262.4 324.7,261.6 323.0,260.0C321.3,258.4 320.3,255.2 320.0,253.0C319.7,250.8 320.2,248.1 321.0,246.5C321.8,244.9 323.3,243.5 325.0,243.4Z" fill="#ff3838"/>
<ellipse cx="334.6" cy="286.8" rx="6.5" ry="5.0" transform="rotate(10 334.6 286.8)" fill="#ff3838"/>
<ellipse cx="399.4" cy="287.7" rx="3.0" ry="4.0" transform="rotate(15 399.4 287.7)" fill="#cc0000"/>
<ellipse cx="440.8" cy="331.4" rx="3.25" ry="3.25" transform="rotate(0 440.8 331.4)" fill="#ff3838"/>
<path d="M405.0,357.0C404.8,355.3 405.5,353.2 407.0,352.0C408.5,350.8 411.8,350.5 414.0,350.0C416.2,349.5 418.3,349.8 420.0,349.0C421.7,348.2 422.3,345.8 424.0,345.0C425.7,344.2 428.0,344.0 430.0,344.0C432.0,344.0 434.3,344.3 436.0,345.0C437.7,345.7 439.7,346.7 440.0,348.0C440.3,349.3 439.2,351.7 438.0,353.0C436.8,354.3 434.0,354.8 433.0,356.0C432.0,357.2 433.5,359.0 432.0,360.0C430.5,361.0 427.0,361.3 424.0,362.0C421.0,362.7 416.7,364.0 414.0,364.0C411.3,364.0 409.5,363.2 408.0,362.0C406.5,360.8 405.2,358.7 405.0,357.0Z" fill="#ff3838"/>
<path d="M343.0,356.0C342.7,354.0 343.8,352.5 345.0,352.0C346.2,351.5 348.7,351.8 350.0,353.0C351.3,354.2 353.0,357.0 353.0,359.0C353.0,361.0 351.0,364.2 350.0,365.0C349.0,365.8 348.2,365.5 347.0,364.0C345.8,362.5 343.3,358.0 343.0,356.0Z" fill="#cc0000"/>
<path d="M305.0,335.0L319.0,335.0L319.0,345.0L305.0,345.0Z" fill="#cc0000"/>
<path d="M382.0,390.0L390.0,390.0L390.0,402.0L382.0,402.0Z" fill="#ff3838"/>
<path d="M422.0,396.0L432.0,396.0L432.0,411.0L422.0,411.0Z" fill="#cc0000"/>
<path d="M312.0,52.0L323.0,52.0L323.0,62.0L312.0,62.0Z" fill="#ffffcc"/>
<path d="M385.0,405.0L432.0,405.0L432.0,452.0L385.0,452.0Z" fill="#ffcc77"/>
<path d="M419.5,415.0C418.2,416.4 418.0,418.9 416.5,420.0C415.0,421.1 412.8,421.3 410.5,421.7C408.2,422.1 404.9,421.8 403.0,422.5C401.1,423.2 399.9,424.7 399.2,426.2C398.4,427.7 398.0,429.8 398.5,431.5C399.0,433.2 401.1,435.1 402.2,436.7C403.3,438.3 404.4,439.4 405.2,441.2C405.9,442.9 406.2,445.4 406.7,447.2C407.2,449.0 403.3,451.2 408.0,452.0C412.7,452.8 430.5,458.8 435.0,452.0C439.5,445.2 436.8,418.2 435.0,411.5C433.2,404.8 426.6,410.9 424.0,411.5C421.4,412.1 420.8,413.6 419.5,415.0Z" fill="#ff9999"/>
<path d="M428.0,418.0C426.2,419.2 425.4,421.2 424.0,422.5C422.6,423.8 421.2,424.5 419.5,425.5C417.8,426.5 415.0,427.5 413.5,428.5C412.0,429.5 410.8,430.1 410.5,431.5C410.2,432.9 411.4,434.9 412.0,436.7C412.6,438.4 413.7,440.4 414.2,442.0C414.7,443.6 414.4,444.3 415.0,446.0C415.6,447.7 414.7,451.0 418.0,452.0C421.3,453.0 432.2,458.2 435.0,452.0C437.8,445.8 436.2,420.7 435.0,415.0C433.8,409.3 429.8,416.8 428.0,418.0Z" fill="#ff3838"/>
<path d="M428.5,419.5C428.0,419.3 427.1,422.5 426.2,424.0C425.3,425.5 423.6,427.2 423.2,428.5C422.8,429.8 423.4,431.4 424.0,431.5C424.6,431.6 425.7,430.3 426.5,429.2C427.3,428.1 428.7,426.6 429.0,425.0C429.3,423.4 429.0,419.7 428.5,419.5Z" fill="#cc0000"/>
<path d="M183.0,62.0C183.2,60.7 183.8,59.0 185.0,58.0C186.2,57.0 188.2,56.5 190.0,56.0C191.8,55.5 194.3,54.7 196.0,55.0C197.7,55.3 199.0,56.5 200.0,58.0C201.0,59.5 201.8,62.2 202.0,64.0C202.2,65.8 201.8,67.7 201.0,69.0C200.2,70.3 198.7,71.5 197.0,72.0C195.3,72.5 192.8,72.3 191.0,72.0C189.2,71.7 187.2,71.0 186.0,70.0C184.8,69.0 184.0,67.3 183.5,66.0C183.0,64.7 182.8,63.3 183.0,62.0Z" fill="#ccffcc" stroke="#000" stroke-opacity="1" stroke-width="1"/>
<path d="M136.0,96.0C138.8,95.3 140.0,99.0 142.0,101.0C144.0,103.0 146.5,105.2 148.0,108.0C149.5,110.8 150.7,114.7 151.0,118.0C151.3,121.3 150.8,125.0 150.0,128.0C149.2,131.0 148.0,134.2 146.0,136.0C144.0,137.8 140.7,138.0 138.0,139.0C135.3,140.0 132.3,141.5 130.0,142.0C127.7,142.5 126.0,141.8 124.0,142.0C122.0,142.2 120.3,144.2 118.0,143.0C115.7,141.8 108.8,141.3 110.0,135.0C111.2,128.7 120.7,111.5 125.0,105.0C129.3,98.5 133.2,96.7 136.0,96.0Z" fill="#ccffcc" stroke="#000" stroke-opacity="1" stroke-width="1"/>
<path d="M138.5,108.0C138.8,107.5 140.4,108.7 141.0,110.0C141.6,111.3 142.0,114.3 142.0,116.0C142.0,117.7 141.5,119.5 141.0,120.0C140.5,120.5 139.2,120.2 139.0,119.0C138.8,117.8 139.6,114.8 139.5,113.0C139.4,111.2 138.2,108.5 138.5,108.0Z" fill="#66ff66"/>
<ellipse cx="135.6" cy="130.6" rx="4.0" ry="2.5" transform="rotate(-10 135.6 130.6)" fill="#ffffcc"/>
<path d="M291.5,29.0C291.8,28.7 294.5,32.6 296.0,33.5C297.5,34.4 299.0,34.5 300.4,34.2C301.8,33.9 302.9,32.7 304.3,31.8C305.7,30.9 307.4,29.1 308.5,29.0C309.6,28.9 310.7,30.0 311.0,31.0C311.3,32.0 311.0,34.0 310.5,35.0C310.0,36.0 309.2,36.6 308.0,37.2C306.8,37.8 304.7,38.5 303.0,38.8C301.3,39.1 299.4,39.3 298.0,38.8C296.6,38.2 295.4,37.1 294.3,35.5C293.2,33.9 291.2,29.3 291.5,29.0Z" fill="#ccffcc" stroke="#000" stroke-opacity="1" stroke-width="1"/>
<path d="M316.5,29.0C317.5,28.9 318.5,31.0 319.5,32.0C320.5,33.0 322.4,34.1 322.5,35.0C322.6,35.9 321.0,36.9 320.0,37.2C319.0,37.5 317.7,36.9 316.5,36.8C315.3,36.6 313.3,37.0 312.8,36.3C312.3,35.6 312.9,33.7 313.5,32.5C314.1,31.3 315.5,29.1 316.5,29.0Z" fill="#ccffcc" stroke="#000" stroke-opacity="1" stroke-width="1"/>
<ellipse cx="420.4" cy="106.4" rx="5.5" ry="6.25" transform="rotate(-20 420.4 106.4)" fill="#ccffcc" stroke="#000" stroke-opacity="1" stroke-width="1"/>
<ellipse cx="430" cy="146.4" rx="6.0" ry="3.5" transform="rotate(25 430 146.4)" fill="#ccffcc" stroke="#000" stroke-opacity="1" stroke-width="1"/>
<path d="M179.0,306.0C178.3,303.8 179.5,299.3 180.0,297.0C180.5,294.7 181.1,293.6 182.0,292.3C182.9,291.0 184.2,289.6 185.4,289.0C186.6,288.4 187.9,288.2 189.0,288.6C190.1,289.0 190.8,290.2 191.8,291.3C192.8,292.4 194.0,294.0 195.0,295.0C196.0,296.0 198.5,295.7 198.0,297.5C197.5,299.3 194.3,303.9 192.0,306.0C189.7,308.1 186.2,310.0 184.0,310.0C181.8,310.0 179.7,308.2 179.0,306.0Z" fill="#ccffcc" stroke="#000" stroke-opacity="1" stroke-width="1"/>
<path d="M206.3,295.0C206.6,294.1 208.0,293.0 209.0,292.8C210.0,292.6 212.0,293.1 212.5,294.0C213.0,294.9 212.9,297.3 212.0,298.0C211.1,298.7 207.9,298.5 207.0,298.0C206.1,297.5 206.0,295.9 206.3,295.0Z" fill="#ccffcc" stroke="#000" stroke-opacity="1" stroke-width="1"/>
<ellipse cx="252.5" cy="48.8" rx="7.5" ry="4.5" transform="rotate(-3 252.5 48.8)" fill="#ffcc77"/>
<ellipse cx="246.4" cy="73" rx="3.25" ry="5.5" transform="rotate(25 246.4 73)" fill="#ffcc77"/>
<ellipse cx="251" cy="96" rx="4.25" ry="5.5" transform="rotate(-35 251 96)" fill="#ffcc77"/>
<ellipse cx="102" cy="294.4" rx="5.25" ry="6.5" transform="rotate(-15 102 294.4)" fill="#ffcc77"/>
<path d="M133.0,308.0C134.0,305.7 138.8,299.5 142.0,299.0C145.2,298.5 152.1,302.7 152.4,305.0C152.7,307.3 146.7,311.7 144.0,313.0C141.3,314.3 137.8,313.8 136.0,313.0C134.2,312.2 132.0,310.3 133.0,308.0Z" fill="#ffcc77"/>
<ellipse cx="121.6" cy="322.4" rx="3.0" ry="5.0" transform="rotate(15 121.6 322.4)" fill="#ffcc77"/>
</g>
<g fill="none" stroke="#2a1408" stroke-opacity="0.7" stroke-width="0.55" stroke-dasharray="7.5 2.5">
<path d="M221.3,71.5L221.8,100.0L223.5,160.0L226.4,212.0L228.4,286.0"/>
<path d="M226.4,212.5L300.0,212.8L330.0,213.0L362.0,214.5"/>
<path d="M332.8,93.5L332.0,150.0L330.6,208.0"/>
<path d="M364.4,215.0L362.0,253.0L360.0,300.0L357.0,353.0L356.0,371.0"/>
<path d="M362.0,253.0L400.0,255.6L430.0,257.5L460.0,256.0L474.0,258.0L482.0,262.0L488.0,258.0L496.0,259.0L504.0,257.0"/>
<path d="M359.0,318.0L366.0,319.0L374.0,324.0L382.0,329.0L388.0,337.0L395.0,347.0L402.0,345.0L414.0,348.0L426.0,349.0L436.0,349.0L441.0,347.0L454.0,363.0"/>
</g>
<g fill="none" stroke="#000" stroke-width="0.9" stroke-linejoin="round">
<path d="M92.0,151.8L98.0,150.0L104.0,146.0L114.0,143.0L122.0,140.0L128.0,134.0L131.0,128.0L134.0,122.0L139.0,116.0L138.0,109.0L138.0,106.0L141.0,100.0L144.0,96.0L147.0,93.5L149.0,99.0L151.0,103.0L154.0,107.0L156.0,101.0L153.0,94.0L155.0,90.0L160.0,92.0L164.0,89.0L165.0,83.0L169.0,79.0L172.0,73.0L177.0,67.0L182.0,63.0L184.0,60.0L189.0,59.0L194.0,56.0L200.0,59.0L203.0,63.0L206.0,67.0L209.0,70.0L210.0,77.0L212.0,71.0L218.0,69.0L223.0,72.0L224.3,68.2L226.2,61.6L229.6,56.3L232.2,51.0L234.9,45.7L237.5,40.4L241.5,37.1L246.1,34.5L249.4,32.5L254.7,34.5L260.0,33.8L264.0,33.2L266.0,29.9L266.0,25.9L264.6,23.2L260.0,22.6L256.0,20.6L260.0,19.3L265.3,18.6L266.3,21.9L268.0,23.2L272.0,25.2L275.9,26.5L281.2,27.9L286.5,29.9L289.5,30.3L292.7,30.4L296.6,33.0L300.4,33.8L304.3,31.2L307.5,29.3L310.0,31.0L311.0,35.5L313.0,34.0L314.0,31.5L316.5,30.0L319.0,32.0L321.6,35.0L321.6,35.7L319.0,38.9L316.5,40.2L317.0,43.4L314.0,46.6L310.7,47.9L308.8,51.0L310.7,54.3L308.8,57.5L306.8,61.4L304.3,65.2L302.8,69.0L305.0,71.5L312.0,76.0L318.0,80.0L324.0,84.0L330.1,87.6L335.3,92.7L341.5,94.8L346.6,97.4L348.7,101.5L352.8,104.0L357.9,106.6L363.1,106.6L367.2,105.1L369.3,103.5L370.3,99.4L373.4,94.3L375.4,90.1L377.0,85.0L379.0,77.0L380.0,71.0L379.0,63.0L379.0,55.0L381.6,49.0L382.0,43.0L384.0,37.0L388.0,29.0L390.0,21.0L393.0,17.0L395.0,20.0L398.0,27.0L400.0,33.0L403.0,36.0L404.0,43.0L406.0,48.0L406.0,57.0L408.0,65.0L411.0,67.0L417.0,65.0L420.0,71.0L426.0,76.0L427.0,83.0L428.0,91.0L430.0,100.0L432.0,108.0L432.0,118.0L435.0,124.0L438.0,130.0L444.0,135.0L450.0,140.0L457.0,145.0L464.0,148.0L462.0,153.0L465.0,158.0L468.0,164.0L469.0,170.0L471.0,177.0L474.0,175.0L477.0,179.0L480.0,177.0L482.0,181.0L481.0,188.0L484.0,193.0L486.0,193.0L491.0,200.0L496.0,207.0L500.0,213.0L503.0,220.0L504.0,229.0L505.0,239.0L504.0,246.0L505.0,253.0L504.5,261.0" stroke-width="0.75" stroke-opacity="0.9"/>
<path d="M504.5,261.0L503.5,266.0L500.3,272.3L498.3,278.0L496.5,283.9L493.6,293.5L489.7,300.3L485.9,307.0L481.0,312.8L476.2,317.6L471.4,322.4L468.5,329.2L465.6,335.0L462.8,340.7L460.0,345.5L456.0,351.0L453.5,358.0L452.0,363.0L451.0,364.0L450.0,370.0L446.0,373.0L438.0,374.0L428.0,375.0L418.0,378.0L413.0,382.0L411.0,387.0L408.0,385.0L404.0,380.0L401.5,379.3L401.8,375.5L399.3,372.0L395.7,372.0L393.5,375.0L395.0,378.3L398.3,379.8L396.0,380.6L391.5,379.0L388.0,379.3L383.0,382.0L377.0,378.0L370.0,375.0L363.0,375.0L359.0,372.0L352.0,368.0L347.0,363.0L343.0,355.0L341.0,346.0L340.5,343.7L336.7,340.0L332.2,337.7L327.7,337.0L330.7,334.7L331.8,329.5L330.0,323.5L327.7,319.3L326.2,323.5L324.0,329.5L319.5,331.7L315.0,332.2L315.0,329.5L320.2,328.0L321.7,323.5L322.5,316.0L325.5,310.0L327.0,304.0L325.8,298.0L324.7,300.2L321.0,305.5L316.5,310.7L310.5,316.0L305.2,321.2L302.2,326.5L300.0,325.0L297.0,319.0L294.0,311.5L291.0,305.5L286.5,302.5L285.0,296.5L282.0,292.7L276.0,291.2L272.0,288.5L266.0,289.0L259.0,287.0L254.0,283.0L250.0,285.0L242.0,285.6L234.0,286.0L227.0,288.0L220.0,291.0L212.0,294.0L204.0,295.6L196.0,297.0L188.0,301.0L180.0,305.0" stroke-width="0.55" stroke-opacity="0.45"/>
<path d="M180.0,305.0L177.0,309.0L173.0,317.0L168.0,319.0L162.0,319.0L156.0,318.0L150.0,318.0L144.0,320.0L136.0,322.0L131.0,324.0L128.0,329.0L123.0,331.0L118.0,335.0L114.0,339.0L108.0,340.0L98.0,340.4L90.0,338.0L84.0,334.0L80.0,330.0L79.0,325.0L83.0,323.0L85.0,318.0L85.0,310.0L83.0,302.0L79.0,294.0L74.8,289.2L71.6,280.7L70.5,273.2L66.3,265.7L64.1,261.4L59.8,253.9L57.7,247.5L54.5,241.0L51.3,235.7L53.4,233.5L55.5,229.3L53.4,225.0L50.2,221.8L47.0,216.4L44.8,211.0L43.1,207.8L43.8,201.4L44.8,199.5L46.0,194.8L45.4,190.0L43.7,185.3L44.8,179.4L46.8,175.3L47.8,176.5L48.4,184.0L50.7,182.4L52.5,177.0L54.8,173.0L60.7,170.6L64.3,166.5L67.8,163.0L71.3,160.0L75.0,157.0L76.0,155.0L77.0,157.0L83.0,156.5L87.8,155.3L92.0,151.8" stroke-width="0.7" stroke-opacity="0.8"/>
<path d="M392.5,409.0L391.0,413.5L392.5,419.5L395.5,427.0L397.7,434.5L400.0,441.0L402.0,445.7L406.0,447.0L409.7,448.7L413.5,446.5L415.0,442.7L418.0,441.0L421.0,442.7L421.7,437.5L424.7,433.0L427.0,427.7L427.7,421.0L427.7,415.0L425.5,412.0L421.7,412.7L418.0,414.0L412.0,415.0L406.0,414.0L400.0,411.0L395.5,409.0Z" stroke-width="0.5" stroke-opacity="0.45"/>
<path d="M232.9,27.9L234.9,23.9L236.8,21.2L239.5,23.2L243.5,22.6L248.0,20.3L251.4,21.2L250.7,23.9L246.8,26.5L241.5,27.9L236.2,28.5Z" stroke-width="0.75"/>
<path d="M314.3,54.5L316.0,53.2L318.5,53.0L320.0,55.0L320.5,57.5L321.6,59.5L320.5,60.8L318.0,59.5L315.5,60.0L314.0,58.0Z" stroke-width="0.75"/>
<path d="M310.5,340.0L313.5,337.7L319.5,336.7L323.2,337.7L327.0,340.0L321.7,341.5L316.5,342.7L312.7,342.2Z" stroke-width="0.5" stroke-opacity="0.45"/>
<path d="M384.3,394.0L386.0,392.5L387.4,395.0L386.8,399.0L385.0,400.0Z" stroke-width="0.5" stroke-opacity="0.45"/>
<path d="M424.0,399.0L426.0,398.0L428.0,400.0L430.0,404.0L429.0,408.0L426.5,409.0L426.0,405.0L424.5,402.0Z" stroke-width="0.5" stroke-opacity="0.45"/>
<path d="M349.0,91.0L352.0,89.5L354.4,90.5L352.0,93.0L349.5,93.0Z" stroke-width="0.75"/>
<path d="M508.3,211.5L507.0,216.0L505.5,222.0L505.0,226.0"/>
<path d="M310.7,26.7L313.5,25.0L316.5,21.5L319.4,18.4"/>
<path d="M40.6,213.5L41.2,218.0L41.6,222.0"/>
<path d="M41.0,224.5L43.0,229.0L45.5,233.0L48.0,236.0"/>
<path d="M45.5,224.0L48.0,226.5L50.5,230.0L52.5,233.0L50.5,234.5L48.0,231.0L46.0,227.5L45.5,224.0"/>
</g>
<g id="crest">
<polygon points="71.10,13.70 71.64,15.47 73.37,14.79 72.32,16.32 73.93,17.25 72.08,17.38 72.36,19.21 71.10,17.85 69.84,19.21 70.12,17.38 68.27,17.25 69.88,16.32 68.83,14.79 70.56,15.47" fill="#111"/>
<rect x="67.9" y="19.7" width="6.6" height="1.1" fill="#222"/>
<rect x="66.6" y="21.6" width="9.2" height="0.7" fill="#666"/>
<path d="M61.5,16.8 L62.6,18.4 L63.7,16.9 L64.3,18.8 L66.2,20.2 L65.6,21.2 L64,21.2 L64,22.8 L65,25.4 L66.8,26.8 L66.5,27.8 L64.8,27.4 L65.6,31 L64.6,34.5 L63,36.5 L64,39.4 L66.3,40.4 L60.5,40.8 L60.2,38 L58,39.5 L52,40.6 L46,40.6 L43,39.8 L47.6,39.5 L53,38 L55.5,35.5 L56,32 L58.2,27.5 L60.5,23 L61,20 Z" fill="#0a0a0a"/>
<path d="M78,20.3 L79.4,18.8 L80.7,19.1 L81,21 L80.4,24 L80.8,26.8 L83,26.3 L87,27.3 L89.9,30.3 L90.6,34 L88.6,35.7 L86.7,36.1 L87,40.2 L88.2,40.6 L84.3,40.6 L85.5,40 L85.1,36.1 L83,35.6 L80.4,33 L79.1,29 L79,24 L79.5,21 Z" fill="#0a0a0a"/>
<path d="M65.6,23.4 H76.6 V32.5 Q76.4,36.2 71.1,38.4 Q65.8,36.2 65.6,32.5 Z" fill="#a8a8a8" stroke="#222" stroke-width="0.7"/>
<path d="M65.6,28.2 H76.6 M69.3,23.4 V28.2 M73,23.4 V28.2 M71.1,28.2 V37.5 M65.6,32.8 H76.6" stroke="#333" stroke-width="0.5" fill="none"/>
<circle cx="67.4" cy="25.8" r="1.05" fill="#e8e8e8"/>
<circle cx="71.1" cy="25.8" r="1.05" fill="#e8e8e8"/>
<circle cx="74.8" cy="25.8" r="1.05" fill="#e8e8e8"/>
<circle cx="68.3" cy="30.5" r="1.05" fill="#e8e8e8"/>
<circle cx="73.9" cy="30.5" r="1.05" fill="#e8e8e8"/>
<circle cx="71.1" cy="34.8" r="1.05" fill="#e8e8e8"/>
<path d="M42,39.4 Q41.4,41.6 44,41.6 H98.6 Q101.2,41.6 100.6,39.4 Q99.6,38.6 98.4,40 H44.2 Q43,38.6 42,39.4 Z" fill="#1a1a1a"/>
<path d="M48.3,30.8 L49.3,32.9" stroke="#333" stroke-width="0.8"/>
<path d="M49.9,25.3 L52.6,25.4" stroke="#333" stroke-width="0.8"/>
<path d="M50.0,27.6 L47.9,27.7" stroke="#333" stroke-width="0.8"/>
<path d="M52.9,30.2 L52.2,31.7" stroke="#333" stroke-width="0.8"/>
<path d="M51.4,34.9 L51.2,37.5" stroke="#333" stroke-width="0.8"/>
<path d="M52.4,24.6 L50.7,26.2" stroke="#333" stroke-width="0.8"/>
<path d="M50.2,24.5 L48.2,25.4" stroke="#333" stroke-width="0.8"/>
<path d="M52.7,35.2 L50.9,37.5" stroke="#333" stroke-width="0.8"/>
<path d="M49.5,33.9 L50.0,36.7" stroke="#333" stroke-width="0.8"/>
<path d="M52.0,25.5 L53.6,26.2" stroke="#333" stroke-width="0.8"/>
<path d="M53.7,29.5 L53.0,31.3" stroke="#333" stroke-width="0.8"/>
<path d="M50.0,28.7 L51.0,30.8" stroke="#333" stroke-width="0.8"/>
<path d="M51.8,35.5 L50.2,37.9" stroke="#333" stroke-width="0.8"/>
<path d="M53.1,37.2 L52.3,38.6" stroke="#333" stroke-width="0.8"/>
<path d="M53.8,37.2 L51.6,37.9" stroke="#333" stroke-width="0.8"/>
<path d="M52.8,26.8 L50.8,27.9" stroke="#333" stroke-width="0.8"/>
<path d="M50.4,24.7 L47.8,26.0" stroke="#333" stroke-width="0.8"/>
<path d="M47.6,34.5 L48.1,36.1" stroke="#333" stroke-width="0.8"/>
<path d="M49.8,34.6 L48.5,35.2" stroke="#333" stroke-width="0.8"/>
<path d="M51.8,24.4 L50.6,25.9" stroke="#333" stroke-width="0.8"/>
<path d="M52.9,36.2 L52.8,39.2" stroke="#333" stroke-width="0.8"/>
<path d="M49.5,24.8 L49.0,26.2" stroke="#333" stroke-width="0.8"/>
<path d="M48.8,29.2 L48.3,30.8" stroke="#333" stroke-width="0.8"/>
<path d="M46.8,35.0 L48.4,37.4" stroke="#333" stroke-width="0.8"/>
<path d="M52.8,28.5 L53.1,30.7" stroke="#333" stroke-width="0.8"/>
<path d="M51.6,31.4 L51.1,33.7" stroke="#333" stroke-width="0.8"/>
<path d="M53.0,30.1 L53.5,32.6" stroke="#333" stroke-width="0.8"/>
<path d="M49.9,28.5 L47.7,28.6" stroke="#333" stroke-width="0.8"/>
<path d="M50.4,23.5 L51.1,25.8" stroke="#333" stroke-width="0.8"/>
<path d="M47.7,32.1 L47.1,33.5" stroke="#333" stroke-width="0.8"/>
<path d="M51.8,30.0 L50.7,31.6" stroke="#333" stroke-width="0.8"/>
<path d="M51.0,34.4 L52.5,34.5" stroke="#333" stroke-width="0.8"/>
<path d="M50.8,36.7 L52.3,38.3" stroke="#333" stroke-width="0.8"/>
<path d="M50.6,28.0 L51.4,29.7" stroke="#333" stroke-width="0.8"/>
<path d="M92.0,31.7 L93.2,33.4" stroke="#333" stroke-width="0.8"/>
<path d="M95.4,23.6 L94.9,26.1" stroke="#333" stroke-width="0.8"/>
<path d="M92.9,27.0 L91.5,28.0" stroke="#333" stroke-width="0.8"/>
<path d="M91.9,29.7 L90.9,31.0" stroke="#333" stroke-width="0.8"/>
<path d="M93.2,28.5 L91.4,29.5" stroke="#333" stroke-width="0.8"/>
<path d="M95.1,25.7 L96.3,27.8" stroke="#333" stroke-width="0.8"/>
<path d="M95.3,30.1 L96.5,31.1" stroke="#333" stroke-width="0.8"/>
<path d="M94.7,26.3 L92.5,27.9" stroke="#333" stroke-width="0.8"/>
<path d="M92.4,27.6 L90.4,29.0" stroke="#333" stroke-width="0.8"/>
<path d="M94.5,28.8 L96.2,29.5" stroke="#333" stroke-width="0.8"/>
<path d="M94.8,27.2 L95.8,29.1" stroke="#333" stroke-width="0.8"/>
<path d="M93.7,29.8 L92.1,30.2" stroke="#333" stroke-width="0.8"/>
<path d="M91.6,36.7 L88.8,37.8" stroke="#333" stroke-width="0.8"/>
<path d="M93.8,37.1 L92.1,37.5" stroke="#333" stroke-width="0.8"/>
<path d="M95.5,34.8 L94.4,36.8" stroke="#333" stroke-width="0.8"/>
<path d="M91.5,28.6 L92.6,29.6" stroke="#333" stroke-width="0.8"/>
<path d="M94.6,28.0 L93.4,28.8" stroke="#333" stroke-width="0.8"/>
<path d="M97.4,33.5 L94.6,34.2" stroke="#333" stroke-width="0.8"/>
<path d="M94.7,32.2 L97.3,32.3" stroke="#333" stroke-width="0.8"/>
<path d="M91.8,27.6 L90.8,29.5" stroke="#333" stroke-width="0.8"/>
<path d="M93.2,36.3 L92.5,38.1" stroke="#333" stroke-width="0.8"/>
<path d="M91.7,34.8 L91.9,37.5" stroke="#333" stroke-width="0.8"/>
<path d="M92.6,25.8 L92.3,28.5" stroke="#333" stroke-width="0.8"/>
<path d="M92.6,34.9 L90.0,35.5" stroke="#333" stroke-width="0.8"/>
<path d="M96.0,23.3 L94.9,25.9" stroke="#333" stroke-width="0.8"/>
<path d="M89.8,27.3 L91.3,29.0" stroke="#333" stroke-width="0.8"/>
<path d="M93.4,30.4 L92.4,31.3" stroke="#333" stroke-width="0.8"/>
<path d="M89.9,25.9 L91.2,26.5" stroke="#333" stroke-width="0.8"/>
<path d="M95.4,35.7 L97.5,36.3" stroke="#333" stroke-width="0.8"/>
<path d="M91.7,27.7 L92.8,29.8" stroke="#333" stroke-width="0.8"/>
<path d="M93.2,28.8 L94.7,29.9" stroke="#333" stroke-width="0.8"/>
<path d="M91.6,31.2 L90.4,32.8" stroke="#333" stroke-width="0.8"/>
<path d="M90.3,25.8 L91.2,28.0" stroke="#333" stroke-width="0.8"/>
<path d="M96.2,28.9 L94.2,30.3" stroke="#333" stroke-width="0.8"/>
<path d="M67.2,45.5 L67.3,48.0" stroke="#333" stroke-width="0.8"/>
<path d="M66.5,50.1 L66.7,51.9" stroke="#333" stroke-width="0.8"/>
<path d="M72.3,50.7 L74.4,51.2" stroke="#333" stroke-width="0.8"/>
<path d="M67.9,53.2 L65.9,53.6" stroke="#333" stroke-width="0.8"/>
<path d="M56.1,47.4 L58.6,48.4" stroke="#333" stroke-width="0.8"/>
<path d="M81.7,52.8 L79.8,54.3" stroke="#333" stroke-width="0.8"/>
<path d="M83.8,48.9 L86.0,49.6" stroke="#333" stroke-width="0.8"/>
<path d="M86.5,42.2 L88.0,42.6" stroke="#333" stroke-width="0.8"/>
<path d="M92.1,44.1 L94.9,44.3" stroke="#333" stroke-width="0.8"/>
<path d="M82.6,52.7 L80.3,53.0" stroke="#333" stroke-width="0.8"/>
<path d="M89.6,41.5 L87.9,43.0" stroke="#333" stroke-width="0.8"/>
<path d="M84.9,42.2 L82.8,44.2" stroke="#333" stroke-width="0.8"/>
<path d="M45.8,44.7 L45.3,47.4" stroke="#333" stroke-width="0.8"/>
<path d="M55.3,43.3 L57.0,45.0" stroke="#333" stroke-width="0.8"/>
<path d="M85.7,46.1 L86.5,47.9" stroke="#333" stroke-width="0.8"/>
<path d="M61.4,47.0 L63.6,47.6" stroke="#333" stroke-width="0.8"/>
<path d="M86.5,42.8 L85.0,45.0" stroke="#333" stroke-width="0.8"/>
<path d="M81.4,47.4 L81.5,49.8" stroke="#333" stroke-width="0.8"/>
<path d="M93.3,43.4 L95.7,44.2" stroke="#333" stroke-width="0.8"/>
<path d="M95.4,47.4 L95.8,49.9" stroke="#333" stroke-width="0.8"/>
<path d="M51.9,44.6 L53.8,46.0" stroke="#333" stroke-width="0.8"/>
<path d="M61.2,43.7 L59.6,46.1" stroke="#333" stroke-width="0.8"/>
<path d="M58.9,49.8 L59.7,52.4" stroke="#333" stroke-width="0.8"/>
<path d="M75.6,44.9 L76.8,45.8" stroke="#333" stroke-width="0.8"/>
<path d="M69.2,46.3 L70.9,47.4" stroke="#333" stroke-width="0.8"/>
<path d="M59.5,51.4 L62.2,52.7" stroke="#333" stroke-width="0.8"/>
<path d="M69.9,48.3 L70.2,51.1" stroke="#333" stroke-width="0.8"/>
<path d="M90.0,47.9 L90.1,50.4" stroke="#333" stroke-width="0.8"/>
<path d="M93.1,46.0 L91.1,48.2" stroke="#333" stroke-width="0.8"/>
<path d="M68.4,44.0 L70.3,45.7" stroke="#333" stroke-width="0.8"/>
<path d="M91.2,44.5 L92.7,45.5" stroke="#333" stroke-width="0.8"/>
<path d="M54.2,50.5 L51.7,51.7" stroke="#333" stroke-width="0.8"/>
<path d="M60.8,46.8 L59.8,48.0" stroke="#333" stroke-width="0.8"/>
<path d="M59.4,45.3 L58.8,47.7" stroke="#333" stroke-width="0.8"/>
<path d="M66.6,47.5 L68.4,48.9" stroke="#333" stroke-width="0.8"/>
<path d="M98.0,46.2 L97.8,47.7" stroke="#333" stroke-width="0.8"/>
<path d="M56.8,50.1 L59.4,51.1" stroke="#333" stroke-width="0.8"/>
<path d="M96.1,42.9 L94.2,43.3" stroke="#333" stroke-width="0.8"/>
<path d="M86.4,50.8 L87.9,52.8" stroke="#333" stroke-width="0.8"/>
<path d="M79.4,51.5 L81.1,53.4" stroke="#333" stroke-width="0.8"/>
<path d="M73.3,42.3 L73.4,44.3" stroke="#333" stroke-width="0.8"/>
<path d="M84.2,49.9 L83.8,51.6" stroke="#333" stroke-width="0.8"/>
<path d="M78.6,49.4 L81.0,50.9" stroke="#333" stroke-width="0.8"/>
<path d="M81.1,43.3 L79.5,43.6" stroke="#333" stroke-width="0.8"/>
<path d="M61.7,50.2 L61.0,52.4" stroke="#333" stroke-width="0.8"/>
<path d="M79.4,47.1 L80.3,48.5" stroke="#333" stroke-width="0.8"/>
<path d="M86.8,48.2 L85.5,49.7" stroke="#333" stroke-width="0.8"/>
<path d="M58.2,46.6 L56.9,47.1" stroke="#333" stroke-width="0.8"/>
<path d="M72.3,44.4 L70.8,45.7" stroke="#333" stroke-width="0.8"/>
<path d="M61.6,45.8 L61.3,48.4" stroke="#333" stroke-width="0.8"/>
<path d="M61.8,52.7 L63.5,53.3" stroke="#333" stroke-width="0.8"/>
<path d="M48.8,42.5 L46.8,44.1" stroke="#333" stroke-width="0.8"/>
<path d="M52.5,43.0 L53.1,45.5" stroke="#333" stroke-width="0.8"/>
<path d="M76.4,42.9 L76.9,44.5" stroke="#333" stroke-width="0.8"/>
<path d="M72.1,48.8 L73.6,49.8" stroke="#333" stroke-width="0.8"/>
<path d="M88.9,41.4 L86.6,43.0" stroke="#333" stroke-width="0.8"/>
<path d="M97.7,45.7 L97.3,48.0" stroke="#333" stroke-width="0.8"/>
<path d="M83.2,45.3 L81.2,46.2" stroke="#333" stroke-width="0.8"/>
<path d="M75.9,51.4 L78.5,51.4" stroke="#333" stroke-width="0.8"/>
<path d="M80.8,47.2 L80.6,49.4" stroke="#333" stroke-width="0.8"/>
<path d="M52.2,48.7 L54.4,48.9" stroke="#333" stroke-width="0.8"/>
<path d="M80.1,46.2 L79.5,49.1" stroke="#333" stroke-width="0.8"/>
<path d="M95.1,42.9 L93.2,44.3" stroke="#333" stroke-width="0.8"/>
<path d="M44.4,46.0 L45.5,47.1" stroke="#333" stroke-width="0.8"/>
<path d="M72.8,52.9 L74.3,55.3" stroke="#333" stroke-width="0.8"/>
<path d="M83.7,43.1 L81.6,44.1" stroke="#333" stroke-width="0.8"/>
<path d="M86.5,45.5 L84.1,47.2" stroke="#333" stroke-width="0.8"/>
<path d="M93.2,46.8 L91.6,48.3" stroke="#333" stroke-width="0.8"/>
<path d="M47.5,42.2 L49.2,42.6" stroke="#333" stroke-width="0.8"/>
<path d="M52.1,47.4 L50.7,49.3" stroke="#333" stroke-width="0.8"/>
<path d="M66.1,49.5 L67.3,51.2" stroke="#333" stroke-width="0.8"/>
<path d="M85.1,46.3 L87.5,47.9" stroke="#333" stroke-width="0.8"/>
<path d="M83.7,45.6 L84.5,47.7" stroke="#333" stroke-width="0.8"/>
<path d="M76.0,44.7 L77.8,44.8" stroke="#333" stroke-width="0.8"/>
<path d="M87.7,42.8 L87.9,44.5" stroke="#333" stroke-width="0.8"/>
<path d="M54.0,43.3 L54.5,44.9" stroke="#333" stroke-width="0.8"/>
<path d="M42.7,42.7 L44.6,43.8" stroke="#333" stroke-width="0.8"/>
<path d="M45.3,41.1 L45.7,43.1" stroke="#333" stroke-width="0.8"/>
<path d="M82.8,41.5 L83.5,43.4" stroke="#333" stroke-width="0.8"/>
<path d="M54.7,42.2 L54.9,43.9" stroke="#333" stroke-width="0.8"/>
<path d="M77.7,46.1 L79.1,46.7" stroke="#333" stroke-width="0.8"/>
<path d="M85.4,44.8 L83.7,46.1" stroke="#333" stroke-width="0.8"/>
<path d="M95.9,45.1 L97.2,46.4" stroke="#333" stroke-width="0.8"/>
<path d="M89.3,49.4 L90.0,50.8" stroke="#333" stroke-width="0.8"/>
<path d="M75.9,41.8 L77.4,41.9" stroke="#333" stroke-width="0.8"/>
<path d="M50.8,42.1 L53.2,42.5" stroke="#333" stroke-width="0.8"/>
<path d="M95.7,44.4 L93.6,44.5" stroke="#333" stroke-width="0.8"/>
<path d="M96.3,41.3 L97.7,43.2" stroke="#333" stroke-width="0.8"/>
<path d="M96.5,41.9 L98.2,44.1" stroke="#333" stroke-width="0.8"/>
<path d="M48.1,45.9 L49.3,48.0" stroke="#333" stroke-width="0.8"/>
<path d="M97.2,43.2 L95.4,45.0" stroke="#333" stroke-width="0.8"/>
<path d="M91.8,48.9 L89.9,49.3" stroke="#333" stroke-width="0.8"/>
<path d="M67.1,44.1 L65.4,45.5" stroke="#333" stroke-width="0.8"/>
<path d="M58.5,43.1 L57.0,45.0" stroke="#333" stroke-width="0.8"/>
<path d="M83.5,46.1 L83.6,47.7" stroke="#333" stroke-width="0.8"/>
<path d="M83.4,40.8 L83.7,43.4" stroke="#333" stroke-width="0.8"/>
<path d="M80.6,42.1 L82.6,44.0" stroke="#333" stroke-width="0.8"/>
<path d="M80.6,53.0 L78.6,53.8" stroke="#333" stroke-width="0.8"/>
<path d="M60.5,46.5 L62.5,46.9" stroke="#333" stroke-width="0.8"/>
<path d="M98.1,42.4 L97.7,44.0" stroke="#333" stroke-width="0.8"/>
<path d="M55.0,41.9 L57.2,43.0" stroke="#333" stroke-width="0.8"/>
<path d="M75.1,41.0 L77.4,42.9" stroke="#333" stroke-width="0.8"/>
<path d="M54.5,47.9 L55.2,50.5" stroke="#333" stroke-width="0.8"/>
<path d="M77.4,51.4 L77.3,53.1" stroke="#333" stroke-width="0.8"/>
<path d="M53.1,42.4 L51.7,43.3" stroke="#333" stroke-width="0.8"/>
<path d="M46.0,47.1 L48.1,48.8" stroke="#333" stroke-width="0.8"/>
<path d="M79.0,49.3 L77.0,51.2" stroke="#333" stroke-width="0.8"/>
<path d="M62.1,49.0 L62.4,50.5" stroke="#333" stroke-width="0.8"/>
<path d="M91.6,49.2 L90.1,50.1" stroke="#333" stroke-width="0.8"/>
<path d="M74.0,47.4 L73.0,48.5" stroke="#333" stroke-width="0.8"/>
<path d="M61.1,47.9 L63.4,48.5" stroke="#333" stroke-width="0.8"/>
<path d="M85.5,46.3 L84.5,48.4" stroke="#333" stroke-width="0.8"/>
<path d="M55.5,46.4 L53.6,46.4" stroke="#333" stroke-width="0.8"/>
<path d="M66.6,42.4 L67.8,43.4" stroke="#333" stroke-width="0.8"/>
<path d="M77.9,53.1 L77.7,55.1" stroke="#333" stroke-width="0.8"/>
<path d="M88.7,47.2 L85.8,47.2" stroke="#333" stroke-width="0.8"/>
<path d="M53.4,42.3 L52.2,43.8" stroke="#333" stroke-width="0.8"/>
<path d="M71.1,50.1 L73.7,50.4" stroke="#333" stroke-width="0.8"/>
<path d="M57.5,46.4 L58.8,48.7" stroke="#333" stroke-width="0.8"/>
<path d="M84.8,45.3 L86.6,45.9" stroke="#333" stroke-width="0.8"/>
<path d="M64.9,42.2 L67.2,43.4" stroke="#333" stroke-width="0.8"/>
<path d="M63.2,43.0 L64.4,44.8" stroke="#333" stroke-width="0.8"/>
<path d="M72.2,47.7 L73.4,50.2" stroke="#333" stroke-width="0.8"/>
<path d="M59.9,47.4 L57.4,48.4" stroke="#333" stroke-width="0.8"/>
<path d="M60.0,44.6 L58.8,45.4" stroke="#333" stroke-width="0.8"/>
<path d="M49.8,48.0 L49.6,49.6" stroke="#333" stroke-width="0.8"/>
<path d="M45.7,43.8 L44.1,45.2" stroke="#333" stroke-width="0.8"/>
<path d="M98.7,41.9 L99.9,42.7" stroke="#333" stroke-width="0.8"/>
<path d="M66.2,46.1 L68.4,46.4" stroke="#333" stroke-width="0.8"/>
<path d="M46.5,45.0 L48.4,46.9" stroke="#333" stroke-width="0.8"/>
<path d="M65.4,45.1 L67.5,45.4" stroke="#333" stroke-width="0.8"/>
<path d="M80.0,50.3 L77.4,51.1" stroke="#333" stroke-width="0.8"/>
<path d="M57.4,42.7 L55.5,44.5" stroke="#333" stroke-width="0.8"/>
<path d="M71.9,51.9 L71.6,53.7" stroke="#333" stroke-width="0.8"/>
<path d="M52.5,40.7 L51.3,43.3" stroke="#333" stroke-width="0.8"/>
<path d="M95.7,46.7 L94.3,49.2" stroke="#333" stroke-width="0.8"/>
<path d="M89.3,48.7 L89.9,50.8" stroke="#333" stroke-width="0.8"/>
<path d="M52.8,43.0 L51.2,45.5" stroke="#333" stroke-width="0.8"/>
<path d="M73.5,46.2 L74.5,48.1" stroke="#333" stroke-width="0.8"/>
<path d="M89.8,47.7 L88.2,47.9" stroke="#333" stroke-width="0.8"/>
<path d="M60.0,47.4 L60.8,50.0" stroke="#333" stroke-width="0.8"/>
<path d="M78.1,41.1 L77.6,43.3" stroke="#333" stroke-width="0.8"/>
<path d="M71.4,44.4 L69.6,46.6" stroke="#333" stroke-width="0.8"/>
<path d="M65.1,48.1 L62.3,49.1" stroke="#333" stroke-width="0.8"/>
<path d="M80.5,44.2 L78.8,44.6" stroke="#333" stroke-width="0.8"/>
<path d="M63.9,52.0 L64.9,53.5" stroke="#333" stroke-width="0.8"/>
<path d="M60.1,46.4 L61.1,47.6" stroke="#333" stroke-width="0.8"/>
<path d="M46.0,44.4 L47.3,45.3" stroke="#333" stroke-width="0.8"/>
<path d="M73.8,51.0 L71.7,52.2" stroke="#333" stroke-width="0.8"/>
<path d="M88.9,40.7 L90.8,43.0" stroke="#333" stroke-width="0.8"/>
<path d="M46.0,44.4 L46.1,46.2" stroke="#333" stroke-width="0.8"/>
<path d="M72.9,41.4 L75.0,43.4" stroke="#333" stroke-width="0.8"/>
<path d="M80.8,50.0 L82.1,50.7" stroke="#333" stroke-width="0.8"/>
<path d="M85.3,43.4 L87.6,44.9" stroke="#333" stroke-width="0.8"/>
<path d="M94.3,42.3 L92.1,42.6" stroke="#333" stroke-width="0.8"/>
<path d="M63.9,41.8 L64.9,44.6" stroke="#333" stroke-width="0.8"/>
<path d="M57.7,43.2 L59.1,43.9" stroke="#333" stroke-width="0.8"/>
<path d="M61.8,53.7 L63.4,54.1" stroke="#333" stroke-width="0.8"/>
<path d="M98.7,43.7 L100.0,46.4" stroke="#333" stroke-width="0.8"/>
<path d="M70.0,50.5 L70.8,51.7" stroke="#333" stroke-width="0.8"/>
<path d="M63.1,50.9 L61.3,52.4" stroke="#333" stroke-width="0.8"/>
<path d="M68.9,47.8 L69.4,50.0" stroke="#333" stroke-width="0.8"/>
<path d="M91.2,43.1 L90.3,45.8" stroke="#333" stroke-width="0.8"/>
<path d="M93.0,44.0 L90.3,44.3" stroke="#333" stroke-width="0.8"/>
<path d="M51.2,44.9 L52.4,45.8" stroke="#333" stroke-width="0.8"/>
<path d="M91.7,43.3 L94.4,43.4" stroke="#333" stroke-width="0.8"/>
<path d="M82.7,48.2 L81.5,49.3" stroke="#333" stroke-width="0.8"/>
<path d="M72.6,47.1 L74.7,48.1" stroke="#333" stroke-width="0.8"/>
<path d="M60.5,47.6 L61.3,49.4" stroke="#333" stroke-width="0.8"/>
<path d="M64.4,49.6 L61.5,49.8" stroke="#333" stroke-width="0.8"/>
<path d="M57.8,42.1 L57.8,44.7" stroke="#333" stroke-width="0.8"/>
<path d="M61.0,49.2 L62.9,51.5" stroke="#333" stroke-width="0.8"/>
<path d="M68.6,46.7 L68.4,49.5" stroke="#333" stroke-width="0.8"/>
<path d="M66.8,49.7 L68.8,50.2" stroke="#333" stroke-width="0.8"/>
<path d="M63.7,43.2 L63.2,46.0" stroke="#333" stroke-width="0.8"/>
<path d="M67.8,52.5 L66.6,54.0" stroke="#333" stroke-width="0.8"/>
<path d="M59.3,47.5 L59.9,49.4" stroke="#333" stroke-width="0.8"/>
<path d="M80.3,52.6 L79.9,54.1" stroke="#333" stroke-width="0.8"/>
<path d="M55.2,45.9 L54.6,47.5" stroke="#333" stroke-width="0.8"/>
<path d="M46.3,45.5 L47.2,46.6" stroke="#333" stroke-width="0.8"/>
<path d="M73.7,52.7 L73.4,55.2" stroke="#333" stroke-width="0.8"/>
<path d="M95.8,47.0 L95.0,48.3" stroke="#333" stroke-width="0.8"/>
<path d="M93.4,45.4 L93.6,48.2" stroke="#333" stroke-width="0.8"/>
<path d="M59.8,43.7 L57.8,44.9" stroke="#333" stroke-width="0.8"/>
<path d="M46.6,41.5 L47.3,42.8" stroke="#333" stroke-width="0.8"/>
<path d="M90.0,43.5 L91.4,45.0" stroke="#333" stroke-width="0.8"/>
<path d="M72.4,46.4 L71.5,48.6" stroke="#333" stroke-width="0.8"/>
<path d="M68.8,43.0 L66.3,43.2" stroke="#333" stroke-width="0.8"/>
<path d="M48.0,46.6 L45.8,48.7" stroke="#333" stroke-width="0.8"/>
<path d="M45.8,40.9 L45.9,43.0" stroke="#333" stroke-width="0.8"/>
<path d="M61.8,46.0 L61.0,48.7" stroke="#333" stroke-width="0.8"/>
<path d="M52.6,46.6 L55.0,47.3" stroke="#333" stroke-width="0.8"/>
<path d="M71.8,49.1 L73.5,49.6" stroke="#333" stroke-width="0.8"/>
<path d="M69.5,52.2 L69.3,54.0" stroke="#333" stroke-width="0.8"/>
<path d="M72.1,43.3 L73.8,45.6" stroke="#333" stroke-width="0.8"/>
<path d="M50.1,47.9 L49.4,49.7" stroke="#333" stroke-width="0.8"/>
<path d="M53.7,41.7 L54.1,43.5" stroke="#333" stroke-width="0.8"/>
<path d="M97.8,43.1 L95.9,43.7" stroke="#333" stroke-width="0.8"/>
<path d="M53.3,44.1 L55.5,44.4" stroke="#333" stroke-width="0.8"/>
<path d="M65.1,52.7 L63.8,53.4" stroke="#333" stroke-width="0.8"/>
<path d="M64.7,46.5 L66.2,47.4" stroke="#333" stroke-width="0.8"/>
<path d="M57.0,50.3 L57.8,51.7" stroke="#333" stroke-width="0.8"/>
<path d="M55.1,46.8 L54.7,48.5" stroke="#333" stroke-width="0.8"/>
<path d="M83.5,43.6 L82.3,45.7" stroke="#333" stroke-width="0.8"/>
<path d="M65.4,47.8 L64.7,50.1" stroke="#333" stroke-width="0.8"/>
<path d="M69.0,41.7 L66.8,43.4" stroke="#333" stroke-width="0.8"/>
<path d="M69.7,48.4 L71.6,50.5" stroke="#333" stroke-width="0.8"/>
<path d="M83.4,43.9 L80.9,45.5" stroke="#333" stroke-width="0.8"/>
<path d="M70.9,43.4 L69.7,44.9" stroke="#333" stroke-width="0.8"/>
<path d="M83.8,49.1 L85.9,49.9" stroke="#333" stroke-width="0.8"/>
<path d="M91.9,46.7 L91.6,49.5" stroke="#333" stroke-width="0.8"/>
<path d="M68.5,47.0 L67.8,49.6" stroke="#333" stroke-width="0.8"/>
<path d="M54.7,42.3 L53.0,43.8" stroke="#333" stroke-width="0.8"/>
<path d="M95.1,48.9 L92.4,49.0" stroke="#333" stroke-width="0.8"/>
<path d="M84.5,45.6 L87.0,45.7" stroke="#333" stroke-width="0.8"/>
<path d="M84.9,45.3 L85.1,47.6" stroke="#333" stroke-width="0.8"/>
<path d="M56.4,38.8 L56.1,40.8" stroke="#333" stroke-width="0.8"/>
<path d="M53.7,38.1 L55.1,40.3" stroke="#333" stroke-width="0.8"/>
<path d="M54.4,38.0 L56.1,39.2" stroke="#333" stroke-width="0.8"/>
<path d="M59.4,37.2 L61.6,37.6" stroke="#333" stroke-width="0.8"/>
<path d="M54.9,38.6 L56.3,39.4" stroke="#333" stroke-width="0.8"/>
<path d="M61.0,40.2 L59.0,41.1" stroke="#333" stroke-width="0.8"/>
<path d="M57.6,36.5 L58.8,38.0" stroke="#333" stroke-width="0.8"/>
<path d="M66.3,37.3 L64.2,37.6" stroke="#333" stroke-width="0.8"/>
<path d="M59.5,37.9 L57.8,38.1" stroke="#333" stroke-width="0.8"/>
<path d="M59.7,38.5 L61.1,39.6" stroke="#333" stroke-width="0.8"/>
<path d="M66.8,39.1 L64.9,41.2" stroke="#333" stroke-width="0.8"/>
<path d="M54.9,39.2 L53.7,40.4" stroke="#333" stroke-width="0.8"/>
<path d="M79.9,39.8 L81.2,42.0" stroke="#333" stroke-width="0.8"/>
<path d="M76.9,38.5 L78.4,40.2" stroke="#333" stroke-width="0.8"/>
<path d="M80.5,39.6 L79.0,41.1" stroke="#333" stroke-width="0.8"/>
<path d="M83.6,37.6 L82.1,38.7" stroke="#333" stroke-width="0.8"/>
<path d="M81.2,38.2 L81.7,39.6" stroke="#333" stroke-width="0.8"/>
<path d="M76.7,38.4 L78.7,40.0" stroke="#333" stroke-width="0.8"/>
<path d="M82.2,40.2 L79.9,41.4" stroke="#333" stroke-width="0.8"/>
<path d="M80.0,34.9 L79.5,37.5" stroke="#333" stroke-width="0.8"/>
<path d="M83.9,36.3 L86.5,37.7" stroke="#333" stroke-width="0.8"/>
<path d="M84.0,37.8 L82.8,39.0" stroke="#333" stroke-width="0.8"/>
<rect x="60.5" y="48.3" width="21" height="2.6" fill="#fff" stroke="#222" stroke-width="0.7"/>
<path d="M62,49.6 H80" stroke="#444" stroke-width="0.9" stroke-dasharray="1.2 0.7"/>
<path d="M67.5,52 H75 L73.5,56.8 H69 Z" fill="#333"/>
<path d="M64.5,55.6 H78" stroke="#333" stroke-width="0.6"/>
<ellipse cx="391" cy="9.3" rx="1.3" ry="0.9" fill="#8a6a2a" stroke="#3a2a10" stroke-width="0.4"/>
<ellipse cx="390.6" cy="16" rx="1" ry="0.8" fill="#ffffcc" stroke="#000" stroke-width="0.6"/>
</g>
</svg>
<div class="t serif" style="left:14.4px;top:61.7px;font-size:11.9px;letter-spacing:-0.41px;-webkit-text-stroke:0.2px #000">Australian Government</div>
<div style="position:absolute;left:14.6px;top:76px;width:113.2px;height:1px;background:#333"></div>
<div class="t serif" style="left:20.8px;top:80.7px;font-size:10.8px;letter-spacing:-0.3px;-webkit-text-stroke:0.2px #000">Bureau of Meteorology</div>
<div class="t ttl" style="left:125.4px;top:389.1px;font-size:12px;-webkit-text-stroke:0.3px #000">Maximum Temperature Anomaly (<sup>o</sup>C)</div>
<div class="t" style="left:166.1px;top:407.3px;font-size:12px;-webkit-text-stroke:0.3px #000">30th September 2023</div>
<div class="t" style="left:150.7px;top:422px;font-size:9.8px;letter-spacing:-0.03px;-webkit-text-stroke:0.3px #000">Australian Bureau of Meteorology</div>
<div class="t sm" style="left:4.3px;top:445px;font-size:8px;letter-spacing:-0.13px">http://www.bom.gov.au</div>
<div class="t sm" style="left:0.6px;top:459.5px;font-size:7.7px;letter-spacing:-0.05px">© Commonwealth of Australia 2023, Bureau of Meteorology</div>
<div class="t sm" style="left:219.6px;top:459.5px;font-size:7.7px;letter-spacing:-0.07px">ID code: AWAP</div>
<div class="t sm" style="left:615px;top:459.5px;font-size:7.7px;letter-spacing:-0.13px">Issued: 01/10/2023</div>
<svg width="680" height="467" viewBox="0 0 680 467" style="position:absolute;left:0;top:0;pointer-events:none">
<rect x="570.9" y="68.50" width="27.2" height="22.10" fill="#996633" stroke="#3a2a1c" stroke-opacity="0.75" stroke-width="0.6"/>
<rect x="570.9" y="90.60" width="27.2" height="22.10" fill="#cc0000" stroke="#3a2a1c" stroke-opacity="0.75" stroke-width="0.6"/>
<rect x="570.9" y="112.70" width="27.2" height="22.10" fill="#ff3838" stroke="#3a2a1c" stroke-opacity="0.75" stroke-width="0.6"/>
<rect x="570.9" y="134.80" width="27.2" height="22.10" fill="#ff9999" stroke="#3a2a1c" stroke-opacity="0.75" stroke-width="0.6"/>
<rect x="570.9" y="156.90" width="27.2" height="22.10" fill="#ffcc77" stroke="#3a2a1c" stroke-opacity="0.75" stroke-width="0.6"/>
<rect x="570.9" y="179.00" width="27.2" height="22.10" fill="#ffff33" stroke="#3a2a1c" stroke-opacity="0.75" stroke-width="0.6"/>
<rect x="570.9" y="201.10" width="27.2" height="22.10" fill="#ffffcc" stroke="#3a2a1c" stroke-opacity="0.75" stroke-width="0.6"/>
<rect x="570.9" y="223.20" width="27.2" height="22.10" fill="#ccffcc" stroke="#3a2a1c" stroke-opacity="0.75" stroke-width="0.6"/>
<rect x="570.9" y="245.30" width="27.2" height="22.10" fill="#66ff66" stroke="#3a2a1c" stroke-opacity="0.75" stroke-width="0.6"/>
<rect x="570.9" y="267.40" width="27.2" height="22.10" fill="#00cc00" stroke="#3a2a1c" stroke-opacity="0.75" stroke-width="0.6"/>
<rect x="570.9" y="289.50" width="27.2" height="22.10" fill="#99ffff" stroke="#3a2a1c" stroke-opacity="0.75" stroke-width="0.6"/>
<rect x="570.9" y="311.60" width="27.2" height="22.10" fill="#33ccff" stroke="#3a2a1c" stroke-opacity="0.75" stroke-width="0.6"/>
<rect x="570.9" y="333.70" width="27.2" height="22.10" fill="#6666ff" stroke="#3a2a1c" stroke-opacity="0.75" stroke-width="0.6"/>
<rect x="570.9" y="355.80" width="27.2" height="22.10" fill="#0000ff" stroke="#3a2a1c" stroke-opacity="0.75" stroke-width="0.6"/>
</svg>
<div class="lab" style="top:86.40px">12<sup>o</sup>C</div>
<div class="lab" style="top:108.50px">10<sup>o</sup>C</div>
<div class="lab" style="top:130.60px">8<sup>o</sup>C</div>
<div class="lab" style="top:152.70px">6<sup>o</sup>C</div>
<div class="lab" style="top:174.80px">4<sup>o</sup>C</div>
<div class="lab" style="top:196.90px">2<sup>o</sup>C</div>
<div class="lab" style="top:219.00px">0<sup>o</sup>C</div>
<div class="lab" style="top:241.10px"><span class="mn">-</span>2<sup>o</sup>C</div>
<div class="lab" style="top:263.20px"><span class="mn">-</span>4<sup>o</sup>C</div>
<div class="lab" style="top:285.30px"><span class="mn">-</span>6<sup>o</sup>C</div>
<div class="lab" style="top:307.40px"><span class="mn">-</span>8<sup>o</sup>C</div>
<div class="lab" style="top:329.50px"><span class="mn">-</span>10<sup>o</sup>C</div>
<div class="lab" style="top:351.60px"><span class="mn">-</span>12<sup>o</sup>C</div>
</body></html>
